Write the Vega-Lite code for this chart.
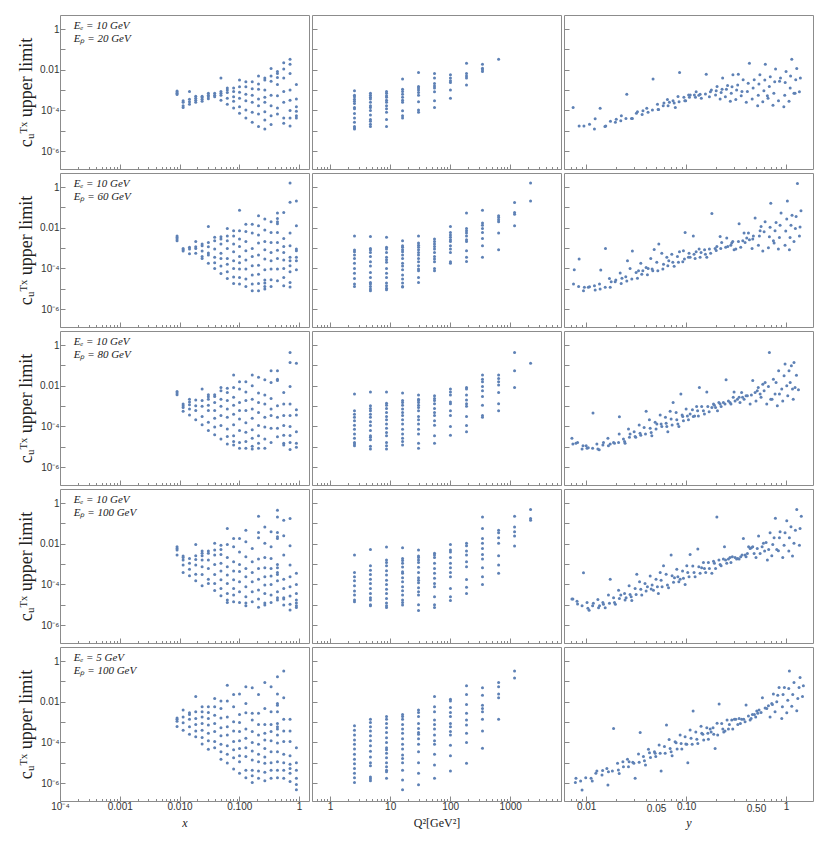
{
"$schema":"https://vega.github.io/schema/vega-lite/v6.json",
"padding":{"left":17,"top":14,"right":2,"bottom":5},
"background":"white",
"config":{"view":{"stroke":"#8c8c8c","strokeWidth":1},"axis":{"grid":false,"domain":false,"tickColor":"#888","labelFont":"Liberation Sans","labelFontSize":10,"labelColor":"#333","titleFont":"Liberation Serif","titleColor":"#222","titleFontWeight":"normal"},"circle":{"size":9,"color":"#5E81B5","opacity":1},"text":{"font":"Liberation Serif","fontSize":11,"fontStyle":"italic","align":"left","baseline":"middle","color":"#222"}},
"datasets":{
"lab":[{"r":1,"v":0.00017,"c":1.5,"t":"Eₑ = 10 GeV"},{"r":1,"v":0.00017,"c":0.34,"t":"Eₚ = 20 GeV"},{"r":2,"v":0.00017,"c":1.5,"t":"Eₑ = 10 GeV"},{"r":2,"v":0.00017,"c":0.34,"t":"Eₚ = 60 GeV"},{"r":3,"v":0.00017,"c":1.5,"t":"Eₑ = 10 GeV"},{"r":3,"v":0.00017,"c":0.34,"t":"Eₚ = 80 GeV"},{"r":4,"v":0.00017,"c":1.5,"t":"Eₑ = 10 GeV"},{"r":4,"v":0.00017,"c":0.34,"t":"Eₚ = 100 GeV"},{"r":5,"v":0.00017,"c":1.5,"t":"Eₑ = 5 GeV"},{"r":5,"v":0.00017,"c":0.34,"t":"Eₚ = 100 GeV"}],
"x1":[{"v":0.0091,"c":9e-4},{"v":0.0091,"c":8e-4},{"v":0.0091,"c":7e-4},{"v":0.0091,"c":6e-4},{"v":0.0115,"c":3e-4},{"v":0.0115,"c":2.5e-4},{"v":0.0115,"c":1.7e-4},{"v":0.0115,"c":1.4e-4},{"v":0.0147,"c":8.5e-4},{"v":0.0147,"c":3.5e-4},{"v":0.0147,"c":2.7e-4},{"v":0.0147,"c":2e-4},{"v":0.0187,"c":5e-4},{"v":0.0187,"c":4e-4},{"v":0.0187,"c":3.2e-4},{"v":0.0187,"c":2.5e-4},{"v":0.0239,"c":5e-4},{"v":0.0239,"c":4.3e-4},{"v":0.0239,"c":3.5e-4},{"v":0.0239,"c":2.8e-4},{"v":0.0304,"c":6.9e-4},{"v":0.0304,"c":5.6e-4},{"v":0.0304,"c":4.7e-4},{"v":0.0304,"c":3.7e-4},{"v":0.0388,"c":6.9e-4},{"v":0.0388,"c":5.6e-4},{"v":0.0388,"c":4.7e-4},{"v":0.0494,"c":3.9e-3},{"v":0.0494,"c":8.6e-4},{"v":0.0494,"c":6.9e-4},{"v":0.0494,"c":5.5e-4},{"v":0.0494,"c":3.2e-4},{"v":0.0631,"c":1.26e-3},{"v":0.0631,"c":1e-3},{"v":0.0631,"c":7.7e-4},{"v":0.0631,"c":4e-4},{"v":0.0631,"c":2e-4},{"v":0.0805,"c":1.26e-3},{"v":0.0805,"c":8.6e-4},{"v":0.0805,"c":4.7e-4},{"v":0.0805,"c":2.8e-4},{"v":0.0805,"c":1.3e-4},{"v":0.101,"c":3.1e-3},{"v":0.101,"c":1.45e-3},{"v":0.101,"c":7.9e-4},{"v":0.101,"c":4e-4},{"v":0.101,"c":1.5e-4},{"v":0.101,"c":7.3e-5},{"v":0.129,"c":2.6e-3},{"v":0.129,"c":1.45e-3},{"v":0.129,"c":6.3e-4},{"v":0.129,"c":3e-4},{"v":0.129,"c":1.05e-4},{"v":0.129,"c":4.2e-5},{"v":0.165,"c":2.6e-3},{"v":0.165,"c":1.17e-3},{"v":0.165,"c":5.6e-4},{"v":0.165,"c":2.5e-4},{"v":0.165,"c":8e-5},{"v":0.165,"c":2.6e-5},{"v":0.21,"c":5e-3},{"v":0.21,"c":2e-3},{"v":0.21,"c":1.1e-3},{"v":0.21,"c":3.6e-4},{"v":0.21,"c":1.7e-4},{"v":0.21,"c":6.6e-5},{"v":0.21,"c":1.6e-5},{"v":0.268,"c":3.9e-3},{"v":0.268,"c":3.1e-3},{"v":0.268,"c":1e-3},{"v":0.268,"c":4.4e-4},{"v":0.268,"c":2.5e-4},{"v":0.268,"c":8.5e-5},{"v":0.268,"c":3.4e-5},{"v":0.268,"c":1.2e-5},{"v":0.341,"c":1.17e-2},{"v":0.341,"c":5e-3},{"v":0.341,"c":2.7e-3},{"v":0.341,"c":5.6e-4},{"v":0.341,"c":1.7e-4},{"v":0.341,"c":5.5e-5},{"v":0.341,"c":2e-5},{"v":0.436,"c":8.3e-3},{"v":0.436,"c":6.6e-3},{"v":0.436,"c":4.2e-3},{"v":0.436,"c":1.9e-3},{"v":0.436,"c":5.3e-4},{"v":0.436,"c":1.3e-4},{"v":0.436,"c":6.6e-5},{"v":0.555,"c":2.2e-2},{"v":0.555,"c":1.1e-2},{"v":0.555,"c":3.9e-3},{"v":0.555,"c":8.6e-4},{"v":0.555,"c":2.5e-4},{"v":0.555,"c":4.2e-5},{"v":0.555,"c":2.3e-5},{"v":0.708,"c":3.3e-2},{"v":0.708,"c":1.9e-2},{"v":0.708,"c":6.6e-3},{"v":0.708,"c":1e-3},{"v":0.708,"c":3.2e-4},{"v":0.708,"c":1e-4},{"v":0.708,"c":4.2e-5},{"v":0.708,"c":1.7e-5},{"v":0.904,"c":1.9e-3},{"v":0.904,"c":3.6e-4},{"v":0.904,"c":1.5e-4},{"v":0.904,"c":9e-5},{"v":0.904,"c":5.5e-5},{"v":0.904,"c":4.2e-5}],
"x2":[{"v":0.0091,"c":4e-3},{"v":0.0091,"c":3.3e-3},{"v":0.0091,"c":2.8e-3},{"v":0.0091,"c":2.3e-3},{"v":0.0115,"c":9.6e-4},{"v":0.0115,"c":8.3e-4},{"v":0.0115,"c":7.1e-4},{"v":0.0147,"c":1.1e-3},{"v":0.0147,"c":9e-4},{"v":0.0147,"c":5.3e-4},{"v":0.0187,"c":2.1e-3},{"v":0.0187,"c":1.15e-3},{"v":0.0187,"c":9.6e-4},{"v":0.0187,"c":5.5e-4},{"v":0.0239,"c":1.6e-3},{"v":0.0239,"c":1.3e-3},{"v":0.0239,"c":7.3e-4},{"v":0.0239,"c":3.9e-4},{"v":0.0239,"c":3.1e-4},{"v":0.0304,"c":1.17e-2},{"v":0.0304,"c":1.9e-3},{"v":0.0304,"c":1.15e-3},{"v":0.0304,"c":5.7e-4},{"v":0.0304,"c":4.6e-4},{"v":0.0304,"c":1.8e-4},{"v":0.0388,"c":3.4e-3},{"v":0.0388,"c":2.3e-3},{"v":0.0388,"c":9e-4},{"v":0.0388,"c":3.5e-4},{"v":0.0388,"c":1.9e-4},{"v":0.0388,"c":1e-4},{"v":0.0494,"c":3.6e-3},{"v":0.0494,"c":2.8e-3},{"v":0.0494,"c":1.6e-3},{"v":0.0494,"c":5.5e-4},{"v":0.0494,"c":3.1e-4},{"v":0.0494,"c":1.3e-4},{"v":0.0494,"c":5.6e-5},{"v":0.0631,"c":9.3e-3},{"v":0.0631,"c":4e-3},{"v":0.0631,"c":2.3e-3},{"v":0.0631,"c":9.6e-4},{"v":0.0631,"c":3.1e-4},{"v":0.0631,"c":1.6e-4},{"v":0.0631,"c":6.9e-5},{"v":0.0631,"c":3.2e-5},{"v":0.0805,"c":7.1e-3},{"v":0.0805,"c":4e-3},{"v":0.0805,"c":1.6e-3},{"v":0.0805,"c":6.6e-4},{"v":0.0805,"c":2.4e-4},{"v":0.0805,"c":1e-4},{"v":0.0805,"c":3.8e-5},{"v":0.0805,"c":1.8e-5},{"v":0.101,"c":7.4e-2},{"v":0.101,"c":7.1e-3},{"v":0.101,"c":2.8e-3},{"v":0.101,"c":1.2e-3},{"v":0.101,"c":3.9e-4},{"v":0.101,"c":1.9e-4},{"v":0.101,"c":9.4e-5},{"v":0.101,"c":3.6e-5},{"v":0.101,"c":1.7e-5},{"v":0.129,"c":1.5e-2},{"v":0.129,"c":6.6e-3},{"v":0.129,"c":2.1e-3},{"v":0.129,"c":7.4e-4},{"v":0.129,"c":2.6e-4},{"v":0.129,"c":9.4e-5},{"v":0.129,"c":3e-5},{"v":0.129,"c":1.3e-5},{"v":0.165,"c":1.5e-2},{"v":0.165,"c":5.5e-3},{"v":0.165,"c":9.6e-4},{"v":0.165,"c":3.9e-4},{"v":0.165,"c":1.35e-4},{"v":0.165,"c":4.7e-5},{"v":0.165,"c":1.7e-5},{"v":0.165,"c":8e-6},{"v":0.21,"c":3.9e-2},{"v":0.21,"c":1.25e-2},{"v":0.21,"c":4.4e-3},{"v":0.21,"c":1.8e-3},{"v":0.21,"c":4.6e-4},{"v":0.21,"c":1.45e-4},{"v":0.21,"c":5.2e-5},{"v":0.21,"c":1.8e-5},{"v":0.21,"c":8e-6},{"v":0.268,"c":2.7e-2},{"v":0.268,"c":7.7e-3},{"v":0.268,"c":2.1e-3},{"v":0.268,"c":8.3e-4},{"v":0.268,"c":2.9e-4},{"v":0.268,"c":8.5e-5},{"v":0.268,"c":2.7e-5},{"v":0.268,"c":1.9e-5},{"v":0.268,"c":1.3e-5},{"v":0.268,"c":9.6e-6},{"v":0.341,"c":2e-2},{"v":0.341,"c":5.9e-3},{"v":0.341,"c":1.9e-3},{"v":0.341,"c":6.1e-4},{"v":0.341,"c":2.4e-4},{"v":0.341,"c":9.4e-5},{"v":0.341,"c":2.8e-5},{"v":0.341,"c":1.3e-5},{"v":0.436,"c":5.3e-2},{"v":0.436,"c":2.9e-2},{"v":0.436,"c":2e-2},{"v":0.436,"c":1.6e-2},{"v":0.436,"c":5.9e-3},{"v":0.436,"c":1.9e-3},{"v":0.436,"c":7.9e-4},{"v":0.436,"c":3.1e-4},{"v":0.436,"c":9.4e-5},{"v":0.436,"c":2.5e-5},{"v":0.555,"c":5.7e-2},{"v":0.555,"c":3e-3},{"v":0.555,"c":1.2e-3},{"v":0.555,"c":6.1e-4},{"v":0.555,"c":2.6e-4},{"v":0.555,"c":1e-4},{"v":0.555,"c":3.6e-5},{"v":0.555,"c":1.4e-5},{"v":0.708,"c":1.6},{"v":0.708,"c":0.18},{"v":0.708,"c":5.5e-3},{"v":0.708,"c":1.3e-3},{"v":0.708,"c":3.5e-4},{"v":0.708,"c":2.4e-4},{"v":0.708,"c":1.35e-4},{"v":0.708,"c":6.9e-5},{"v":0.708,"c":2e-5},{"v":0.708,"c":1.2e-5},{"v":0.904,"c":0.21},{"v":0.904,"c":1.25e-2},{"v":0.904,"c":9e-4},{"v":0.904,"c":7.4e-4},{"v":0.904,"c":3.5e-4},{"v":0.904,"c":2.4e-4},{"v":0.904,"c":8.6e-5}],
"x3":[{"v":0.0091,"c":5.2e-3},{"v":0.0091,"c":4.4e-3},{"v":0.0091,"c":3.6e-3},{"v":0.0115,"c":1.26e-3},{"v":0.0115,"c":1.05e-3},{"v":0.0115,"c":8.6e-4},{"v":0.0115,"c":5.5e-4},{"v":0.0147,"c":2.2e-3},{"v":0.0147,"c":1.6e-3},{"v":0.0147,"c":1.15e-3},{"v":0.0147,"c":7.1e-4},{"v":0.0147,"c":3.6e-4},{"v":0.0187,"c":2e-3},{"v":0.0187,"c":1.05e-3},{"v":0.0187,"c":6e-4},{"v":0.0187,"c":2.1e-4},{"v":0.0239,"c":6.9e-3},{"v":0.0239,"c":1.9e-3},{"v":0.0239,"c":9.8e-4},{"v":0.0239,"c":3.1e-4},{"v":0.0239,"c":1.2e-4},{"v":0.0304,"c":3.6e-3},{"v":0.0304,"c":2.9e-3},{"v":0.0304,"c":2.2e-3},{"v":0.0304,"c":1.1e-3},{"v":0.0304,"c":6e-4},{"v":0.0304,"c":1.6e-4},{"v":0.0304,"c":6.2e-5},{"v":0.0388,"c":3.6e-3},{"v":0.0388,"c":3e-3},{"v":0.0388,"c":1.5e-3},{"v":0.0388,"c":6e-4},{"v":0.0388,"c":2.5e-4},{"v":0.0388,"c":9.3e-5},{"v":0.0388,"c":3.9e-5},{"v":0.0494,"c":8.3e-3},{"v":0.0494,"c":5.7e-3},{"v":0.0494,"c":2.2e-3},{"v":0.0494,"c":9.8e-4},{"v":0.0494,"c":3.4e-4},{"v":0.0494,"c":1.1e-4},{"v":0.0494,"c":2.4e-5},{"v":0.0631,"c":7.5e-3},{"v":0.0631,"c":4.7e-3},{"v":0.0631,"c":1.9e-3},{"v":0.0631,"c":7.1e-4},{"v":0.0631,"c":2.8e-4},{"v":0.0631,"c":7.4e-5},{"v":0.0631,"c":3.2e-5},{"v":0.0631,"c":1.35e-5},{"v":0.0805,"c":3.4e-2},{"v":0.0805,"c":8.3e-3},{"v":0.0805,"c":2.7e-3},{"v":0.0805,"c":1.1e-3},{"v":0.0805,"c":4e-4},{"v":0.0805,"c":1.2e-4},{"v":0.0805,"c":3.5e-5},{"v":0.0805,"c":1.8e-5},{"v":0.0805,"c":1.2e-5},{"v":0.101,"c":1.6e-2},{"v":0.101,"c":6.9e-3},{"v":0.101,"c":1.5e-3},{"v":0.101,"c":6e-4},{"v":0.101,"c":2.3e-4},{"v":0.101,"c":6.2e-5},{"v":0.101,"c":1.6e-5},{"v":0.101,"c":8.5e-6},{"v":0.129,"c":1.6e-2},{"v":0.129,"c":5e-3},{"v":0.129,"c":1.9e-3},{"v":0.129,"c":6e-4},{"v":0.129,"c":1.5e-4},{"v":0.129,"c":5.2e-5},{"v":0.129,"c":1.8e-5},{"v":0.129,"c":8.5e-6},{"v":0.165,"c":3.4e-2},{"v":0.165,"c":1e-2},{"v":0.165,"c":2.2e-3},{"v":0.165,"c":7.1e-4},{"v":0.165,"c":2.5e-4},{"v":0.165,"c":6.9e-5},{"v":0.165,"c":2.6e-5},{"v":0.165,"c":1.05e-5},{"v":0.165,"c":7.8e-6},{"v":0.21,"c":2.6e-2},{"v":0.21,"c":4.4e-3},{"v":0.21,"c":1.5e-3},{"v":0.21,"c":4.9e-4},{"v":0.21,"c":1.1e-4},{"v":0.21,"c":3.5e-5},{"v":0.21,"c":1.5e-5},{"v":0.21,"c":8.5e-6},{"v":0.268,"c":2e-2},{"v":0.268,"c":3.5e-3},{"v":0.268,"c":1.26e-3},{"v":0.268,"c":2.8e-4},{"v":0.268,"c":9.3e-5},{"v":0.268,"c":2.4e-5},{"v":0.268,"c":8.5e-6},{"v":0.341,"c":5.5e-2},{"v":0.341,"c":1.45e-2},{"v":0.341,"c":2.4e-3},{"v":0.341,"c":7.1e-4},{"v":0.341,"c":3.4e-4},{"v":0.341,"c":8e-5},{"v":0.341,"c":1.6e-5},{"v":0.436,"c":5.5e-2},{"v":0.436,"c":2.1e-2},{"v":0.436,"c":1.8e-2},{"v":0.436,"c":1.05e-3},{"v":0.436,"c":2.8e-4},{"v":0.436,"c":8e-5},{"v":0.436,"c":3.1e-5},{"v":0.555,"c":4.7e-3},{"v":0.555,"c":1.26e-3},{"v":0.555,"c":3.4e-4},{"v":0.555,"c":1.1e-4},{"v":0.555,"c":3.7e-5},{"v":0.555,"c":1.5e-5},{"v":0.555,"c":1.2e-5},{"v":0.708,"c":0.44},{"v":0.708,"c":0.14},{"v":0.708,"c":9.3e-3},{"v":0.708,"c":1.26e-3},{"v":0.708,"c":3.4e-4},{"v":0.708,"c":1e-4},{"v":0.708,"c":3.6e-5},{"v":0.708,"c":1.6e-5},{"v":0.708,"c":7.2e-6},{"v":0.904,"c":0.13},{"v":0.904,"c":6.6e-4},{"v":0.904,"c":3.6e-4},{"v":0.904,"c":5.5e-5},{"v":0.904,"c":1.5e-5},{"v":0.904,"c":9.3e-6}],
"x4":[{"v":0.0091,"c":7.1e-3},{"v":0.0091,"c":5.9e-3},{"v":0.0091,"c":4.9e-3},{"v":0.0091,"c":2.8e-3},{"v":0.0115,"c":2.5e-3},{"v":0.0115,"c":2.1e-3},{"v":0.0115,"c":1.6e-3},{"v":0.0115,"c":9e-4},{"v":0.0115,"c":3.9e-4},{"v":0.0147,"c":1.9e-3},{"v":0.0147,"c":1.1e-3},{"v":0.0147,"c":5.5e-4},{"v":0.0147,"c":2.7e-4},{"v":0.0187,"c":9.3e-3},{"v":0.0187,"c":2.6e-3},{"v":0.0187,"c":1.7e-3},{"v":0.0187,"c":9e-4},{"v":0.0187,"c":3.2e-4},{"v":0.0187,"c":1.5e-4},{"v":0.0239,"c":4.4e-3},{"v":0.0239,"c":3.4e-3},{"v":0.0239,"c":2.6e-3},{"v":0.0239,"c":1.6e-3},{"v":0.0239,"c":7.4e-4},{"v":0.0239,"c":3.1e-4},{"v":0.0239,"c":8.6e-5},{"v":0.0304,"c":4.4e-3},{"v":0.0304,"c":3.4e-3},{"v":0.0304,"c":1.6e-3},{"v":0.0304,"c":6.1e-4},{"v":0.0304,"c":1.8e-4},{"v":0.0304,"c":1.1e-4},{"v":0.0388,"c":1.05e-2},{"v":0.0388,"c":4.9e-3},{"v":0.0388,"c":2.8e-3},{"v":0.0388,"c":9.6e-4},{"v":0.0388,"c":3.1e-4},{"v":0.0388,"c":1.1e-4},{"v":0.0388,"c":5e-5},{"v":0.0494,"c":8.6e-3},{"v":0.0494,"c":5.2e-3},{"v":0.0494,"c":3e-3},{"v":0.0494,"c":1.1e-3},{"v":0.0494,"c":4.6e-4},{"v":0.0494,"c":1.7e-4},{"v":0.0494,"c":6.3e-5},{"v":0.0494,"c":2.8e-5},{"v":0.0631,"c":5.7e-2},{"v":0.0631,"c":9.3e-3},{"v":0.0631,"c":2.1e-3},{"v":0.0631,"c":7.4e-4},{"v":0.0631,"c":2.9e-4},{"v":0.0631,"c":1.1e-4},{"v":0.0631,"c":3.6e-5},{"v":0.0631,"c":1.7e-5},{"v":0.0631,"c":1.3e-5},{"v":0.0805,"c":1.8e-2},{"v":0.0805,"c":7.1e-3},{"v":0.0805,"c":1.3e-3},{"v":0.0805,"c":4.6e-4},{"v":0.0805,"c":1.7e-4},{"v":0.0805,"c":6.3e-5},{"v":0.0805,"c":3e-5},{"v":0.0805,"c":1.4e-5},{"v":0.101,"c":1.8e-2},{"v":0.101,"c":4e-3},{"v":0.101,"c":9.6e-4},{"v":0.101,"c":4.3e-4},{"v":0.101,"c":1.35e-4},{"v":0.101,"c":4.3e-5},{"v":0.101,"c":1.3e-5},{"v":0.129,"c":4.7e-2},{"v":0.129,"c":1.25e-2},{"v":0.129,"c":2.3e-3},{"v":0.129,"c":6.1e-4},{"v":0.129,"c":2.4e-4},{"v":0.129,"c":7.7e-5},{"v":0.129,"c":2.5e-5},{"v":0.129,"c":1.2e-5},{"v":0.129,"c":9e-6},{"v":0.165,"c":5.9e-3},{"v":0.165,"c":1.3e-3},{"v":0.165,"c":3.9e-4},{"v":0.165,"c":1.35e-4},{"v":0.165,"c":4.3e-5},{"v":0.165,"c":1.4e-5},{"v":0.21,"c":0.23},{"v":0.21,"c":3.6e-2},{"v":0.21,"c":2e-2},{"v":0.21,"c":1.8e-3},{"v":0.21,"c":6.1e-4},{"v":0.21,"c":1.8e-4},{"v":0.21,"c":5.3e-5},{"v":0.21,"c":1.9e-5},{"v":0.21,"c":7.5e-6},{"v":0.268,"c":6.8e-2},{"v":0.268,"c":1.05e-2},{"v":0.268,"c":2.1e-3},{"v":0.268,"c":6.6e-4},{"v":0.268,"c":2.4e-4},{"v":0.268,"c":9.4e-5},{"v":0.268,"c":3.6e-5},{"v":0.268,"c":1.2e-5},{"v":0.268,"c":9.6e-6},{"v":0.341,"c":3.9e-2},{"v":0.341,"c":7.1e-3},{"v":0.341,"c":1.9e-3},{"v":0.341,"c":6.1e-4},{"v":0.341,"c":2.6e-4},{"v":0.341,"c":1e-4},{"v":0.341,"c":3e-5},{"v":0.341,"c":1.3e-5},{"v":0.436,"c":0.45},{"v":0.436,"c":0.21},{"v":0.436,"c":3.6e-2},{"v":0.436,"c":2.2e-2},{"v":0.436,"c":1.8e-2},{"v":0.436,"c":9.6e-4},{"v":0.436,"c":6.6e-4},{"v":0.436,"c":3.9e-4},{"v":0.436,"c":3.1e-4},{"v":0.436,"c":1.5e-4},{"v":0.436,"c":4.3e-5},{"v":0.436,"c":2.2e-5},{"v":0.436,"c":1.7e-5},{"v":0.555,"c":0.146},{"v":0.555,"c":2.5e-2},{"v":0.555,"c":2.8e-3},{"v":0.555,"c":1.8e-4},{"v":0.555,"c":6.3e-5},{"v":0.555,"c":2.2e-5},{"v":0.555,"c":1.9e-5},{"v":0.555,"c":9.6e-6},{"v":0.708,"c":0.176},{"v":0.708,"c":8e-3},{"v":0.708,"c":9e-4},{"v":0.708,"c":2.4e-4},{"v":0.708,"c":7.7e-5},{"v":0.708,"c":2.7e-5},{"v":0.708,"c":1.05e-5},{"v":0.708,"c":5.5e-6},{"v":0.904,"c":3.5e-4},{"v":0.904,"c":1e-4},{"v":0.904,"c":3.6e-5},{"v":0.904,"c":1.7e-5},{"v":0.904,"c":1.2e-5},{"v":0.904,"c":9e-6},{"v":0.904,"c":7.2e-6}],
"x5":[{"v":0.0091,"c":1.6e-3},{"v":0.0091,"c":1.4e-3},{"v":0.0091,"c":1.1e-3},{"v":0.0091,"c":6e-4},{"v":0.0115,"c":3.9e-3},{"v":0.0115,"c":1.8e-3},{"v":0.0115,"c":9.3e-4},{"v":0.0115,"c":4e-4},{"v":0.0147,"c":2.9e-3},{"v":0.0147,"c":2.4e-3},{"v":0.0147,"c":1.4e-3},{"v":0.0147,"c":5.9e-4},{"v":0.0147,"c":2.5e-4},{"v":0.0187,"c":1.8e-2},{"v":0.0187,"c":3.2e-3},{"v":0.0187,"c":1.5e-3},{"v":0.0187,"c":7.7e-4},{"v":0.0187,"c":3.6e-4},{"v":0.0187,"c":1.9e-4},{"v":0.0239,"c":5.7e-3},{"v":0.0239,"c":3.2e-3},{"v":0.0239,"c":1.8e-3},{"v":0.0239,"c":8.6e-4},{"v":0.0239,"c":4e-4},{"v":0.0239,"c":1.75e-4},{"v":0.0239,"c":8.4e-5},{"v":0.0304,"c":5.7e-3},{"v":0.0304,"c":3e-3},{"v":0.0304,"c":1.5e-3},{"v":0.0304,"c":7.1e-4},{"v":0.0304,"c":2.8e-4},{"v":0.0304,"c":1.2e-4},{"v":0.0304,"c":4.6e-5},{"v":0.0388,"c":1.45e-2},{"v":0.0388,"c":5.7e-3},{"v":0.0388,"c":2.2e-3},{"v":0.0388,"c":8.6e-4},{"v":0.0388,"c":3.4e-4},{"v":0.0388,"c":1.1e-4},{"v":0.0388,"c":5.5e-5},{"v":0.0494,"c":1.1e-2},{"v":0.0494,"c":4.7e-3},{"v":0.0494,"c":1.6e-3},{"v":0.0494,"c":5.3e-4},{"v":0.0494,"c":2.1e-4},{"v":0.0494,"c":8e-5},{"v":0.0494,"c":3.5e-5},{"v":0.0494,"c":1.5e-5},{"v":0.0631,"c":6.6e-2},{"v":0.0631,"c":1.1e-2},{"v":0.0631,"c":1.8e-3},{"v":0.0631,"c":5.9e-4},{"v":0.0631,"c":2.3e-4},{"v":0.0631,"c":6.8e-5},{"v":0.0631,"c":2.6e-5},{"v":0.0631,"c":9.6e-6},{"v":0.0805,"c":2.3e-2},{"v":0.0805,"c":5.7e-3},{"v":0.0805,"c":1.05e-3},{"v":0.0805,"c":3.6e-4},{"v":0.0805,"c":1.1e-4},{"v":0.0805,"c":4.3e-5},{"v":0.0805,"c":1.75e-5},{"v":0.0805,"c":4.9e-6},{"v":0.101,"c":2.4e-2},{"v":0.101,"c":2.4e-3},{"v":0.101,"c":9.6e-4},{"v":0.101,"c":3.4e-4},{"v":0.101,"c":1.2e-4},{"v":0.101,"c":5e-5},{"v":0.101,"c":2.2e-5},{"v":0.101,"c":1.1e-5},{"v":0.101,"c":3e-6},{"v":0.129,"c":5.5e-2},{"v":0.129,"c":8.3e-3},{"v":0.129,"c":2.9e-3},{"v":0.129,"c":4.6e-4},{"v":0.129,"c":1.6e-4},{"v":0.129,"c":5.5e-5},{"v":0.129,"c":2e-5},{"v":0.129,"c":4.3e-6},{"v":0.129,"c":1.8e-6},{"v":0.165,"c":4.9e-2},{"v":0.165,"c":2.7e-3},{"v":0.165,"c":1.26e-3},{"v":0.165,"c":3.4e-4},{"v":0.165,"c":1e-4},{"v":0.165,"c":3.8e-5},{"v":0.165,"c":1.35e-5},{"v":0.165,"c":4.3e-6},{"v":0.165,"c":2.3e-6},{"v":0.165,"c":1.05e-6},{"v":0.21,"c":2.3e-2},{"v":0.21,"c":2.7e-3},{"v":0.21,"c":7.7e-4},{"v":0.21,"c":2.3e-4},{"v":0.21,"c":8e-5},{"v":0.21,"c":2.6e-5},{"v":0.21,"c":1.1e-5},{"v":0.21,"c":3.9e-6},{"v":0.21,"c":1.7e-6},{"v":0.268,"c":8.9e-2},{"v":0.268,"c":4.7e-3},{"v":0.268,"c":7.7e-4},{"v":0.268,"c":2.8e-4},{"v":0.268,"c":1.3e-4},{"v":0.268,"c":5e-5},{"v":0.268,"c":1.9e-5},{"v":0.268,"c":9.3e-6},{"v":0.268,"c":3.4e-6},{"v":0.268,"c":1.3e-6},{"v":0.341,"c":5.5e-2},{"v":0.341,"c":3.2e-3},{"v":0.341,"c":7.7e-4},{"v":0.341,"c":3.4e-4},{"v":0.341,"c":1.2e-4},{"v":0.341,"c":3.5e-5},{"v":0.341,"c":1e-5},{"v":0.341,"c":4.3e-6},{"v":0.341,"c":1.7e-6},{"v":0.436,"c":0.17},{"v":0.436,"c":2.4e-2},{"v":0.436,"c":8.3e-3},{"v":0.436,"c":6.8e-3},{"v":0.436,"c":3.2e-3},{"v":0.436,"c":8.6e-4},{"v":0.436,"c":5.9e-4},{"v":0.436,"c":4.6e-4},{"v":0.436,"c":2.3e-4},{"v":0.436,"c":9.4e-5},{"v":0.436,"c":3.5e-5},{"v":0.436,"c":1.1e-5},{"v":0.436,"c":4.3e-6},{"v":0.436,"c":1.8e-6},{"v":0.555,"c":0.33},{"v":0.555,"c":1.6e-2},{"v":0.555,"c":1.4e-3},{"v":0.555,"c":3.6e-4},{"v":0.555,"c":1.1e-4},{"v":0.555,"c":2.6e-5},{"v":0.555,"c":1e-5},{"v":0.555,"c":4.3e-6},{"v":0.555,"c":1.7e-6},{"v":0.708,"c":1.4e-3},{"v":0.708,"c":3.6e-4},{"v":0.708,"c":1.1e-4},{"v":0.708,"c":2.2e-5},{"v":0.708,"c":8.5e-6},{"v":0.708,"c":5.2e-6},{"v":0.708,"c":3e-6},{"v":0.708,"c":1.2e-6},{"v":0.904,"c":5.5e-5},{"v":0.904,"c":1e-5},{"v":0.904,"c":4.3e-6},{"v":0.904,"c":1.7e-6},{"v":0.904,"c":8.5e-7},{"v":0.904,"c":4.6e-7}],
"q1":[{"v":2.55,"c":9.3e-4},{"v":2.55,"c":5.6e-4},{"v":2.55,"c":4.7e-4},{"v":2.55,"c":3.5e-4},{"v":2.55,"c":2.8e-4},{"v":2.55,"c":2.2e-4},{"v":2.55,"c":1.4e-4},{"v":2.55,"c":1.2e-4},{"v":2.55,"c":7e-5},{"v":2.55,"c":4.2e-5},{"v":2.55,"c":2.6e-5},{"v":2.55,"c":1.6e-5},{"v":2.55,"c":1.35e-5},{"v":2.55,"c":1.2e-5},{"v":4.7,"c":6.9e-4},{"v":4.7,"c":5.6e-4},{"v":4.7,"c":4.4e-4},{"v":4.7,"c":3.6e-4},{"v":4.7,"c":2.5e-4},{"v":4.7,"c":1.7e-4},{"v":4.7,"c":1.4e-4},{"v":4.7,"c":1e-4},{"v":4.7,"c":6e-5},{"v":4.7,"c":3.6e-5},{"v":4.7,"c":2.9e-5},{"v":4.7,"c":2.1e-5},{"v":4.7,"c":1.6e-5},{"v":8.7,"c":8.6e-4},{"v":8.7,"c":6.9e-4},{"v":8.7,"c":5.3e-4},{"v":8.7,"c":4.4e-4},{"v":8.7,"c":3.2e-4},{"v":8.7,"c":2.5e-4},{"v":8.7,"c":1.7e-4},{"v":8.7,"c":1.2e-4},{"v":8.7,"c":8e-5},{"v":8.7,"c":3.6e-5},{"v":8.7,"c":1.6e-5},{"v":16.1,"c":3.5e-3},{"v":16.1,"c":1.1e-3},{"v":16.1,"c":8.6e-4},{"v":16.1,"c":6.3e-4},{"v":16.1,"c":4.4e-4},{"v":16.1,"c":3.2e-4},{"v":16.1,"c":2.5e-4},{"v":16.1,"c":9.6e-5},{"v":16.1,"c":5.5e-5},{"v":16.1,"c":4.2e-5},{"v":29.7,"c":7.4e-3},{"v":29.7,"c":1.5e-3},{"v":29.7,"c":1.26e-3},{"v":29.7,"c":1e-3},{"v":29.7,"c":7.7e-4},{"v":29.7,"c":5.6e-4},{"v":29.7,"c":2.7e-4},{"v":29.7,"c":1.05e-4},{"v":29.7,"c":8e-5},{"v":54.8,"c":6.6e-3},{"v":54.8,"c":3.9e-3},{"v":54.8,"c":2.1e-3},{"v":54.8,"c":1.6e-3},{"v":54.8,"c":1.26e-3},{"v":54.8,"c":8.4e-4},{"v":54.8,"c":3e-4},{"v":54.8,"c":1.4e-4},{"v":101,"c":5.7e-3},{"v":101,"c":3.9e-3},{"v":101,"c":2.9e-3},{"v":101,"c":2.4e-3},{"v":101,"c":1e-3},{"v":101,"c":4e-4},{"v":187,"c":2.1e-2},{"v":187,"c":6.6e-3},{"v":187,"c":5e-3},{"v":187,"c":3.9e-3},{"v":187,"c":1.8e-3},{"v":345,"c":1.9e-2},{"v":345,"c":1.2e-2},{"v":345,"c":1e-2},{"v":345,"c":8.3e-3},{"v":640,"c":3.3e-2}],
"q2":[{"v":2.55,"c":4e-3},{"v":2.55,"c":8e-4},{"v":2.55,"c":6.6e-4},{"v":2.55,"c":4.6e-4},{"v":2.55,"c":3.1e-4},{"v":2.55,"c":1.8e-4},{"v":2.55,"c":1e-4},{"v":2.55,"c":5.8e-5},{"v":2.55,"c":3.2e-5},{"v":2.55,"c":1.7e-5},{"v":2.55,"c":1.3e-5},{"v":4.7,"c":3.7e-3},{"v":4.7,"c":9.6e-4},{"v":4.7,"c":8e-4},{"v":4.7,"c":6.1e-4},{"v":4.7,"c":3.9e-4},{"v":4.7,"c":2.1e-4},{"v":4.7,"c":1.3e-4},{"v":4.7,"c":6.3e-5},{"v":4.7,"c":3.6e-5},{"v":4.7,"c":2e-5},{"v":4.7,"c":1.7e-5},{"v":4.7,"c":1.3e-5},{"v":4.7,"c":9.6e-6},{"v":4.7,"c":8e-6},{"v":8.7,"c":3.4e-3},{"v":8.7,"c":1.1e-3},{"v":8.7,"c":9e-4},{"v":8.7,"c":6.1e-4},{"v":8.7,"c":3.5e-4},{"v":8.7,"c":2.7e-4},{"v":8.7,"c":2e-4},{"v":8.7,"c":1e-4},{"v":8.7,"c":5.8e-5},{"v":8.7,"c":3.6e-5},{"v":8.7,"c":1.9e-5},{"v":8.7,"c":1.4e-5},{"v":8.7,"c":1.05e-5},{"v":8.7,"c":9e-6},{"v":16.1,"c":2.3e-3},{"v":16.1,"c":1.3e-3},{"v":16.1,"c":1.1e-3},{"v":16.1,"c":8.3e-4},{"v":16.1,"c":6.6e-4},{"v":16.1,"c":4.6e-4},{"v":16.1,"c":3.1e-4},{"v":16.1,"c":1.8e-4},{"v":16.1,"c":1.3e-4},{"v":16.1,"c":8.6e-5},{"v":16.1,"c":4.7e-5},{"v":16.1,"c":3e-5},{"v":16.1,"c":1.9e-5},{"v":16.1,"c":1.3e-5},{"v":16.1,"c":1.2e-5},{"v":29.7,"c":4e-3},{"v":29.7,"c":1.8e-3},{"v":29.7,"c":1.4e-3},{"v":29.7,"c":1.1e-3},{"v":29.7,"c":8.3e-4},{"v":29.7,"c":6.1e-4},{"v":29.7,"c":4.6e-4},{"v":29.7,"c":3.1e-4},{"v":29.7,"c":2.1e-4},{"v":29.7,"c":1.35e-4},{"v":29.7,"c":9.4e-5},{"v":29.7,"c":7.7e-5},{"v":29.7,"c":3.6e-5},{"v":29.7,"c":2e-5},{"v":54.8,"c":2.8e-3},{"v":54.8,"c":2.1e-3},{"v":54.8,"c":1.6e-3},{"v":54.8,"c":1.2e-3},{"v":54.8,"c":9e-4},{"v":54.8,"c":6.1e-4},{"v":54.8,"c":3.9e-4},{"v":54.8,"c":2.9e-4},{"v":54.8,"c":2.1e-4},{"v":54.8,"c":1e-4},{"v":54.8,"c":7.7e-5},{"v":101,"c":1.17e-2},{"v":101,"c":5.9e-3},{"v":101,"c":4.4e-3},{"v":101,"c":3.4e-3},{"v":101,"c":2.6e-3},{"v":101,"c":2.1e-3},{"v":101,"c":1.3e-3},{"v":101,"c":9e-4},{"v":101,"c":6.1e-4},{"v":101,"c":2.1e-4},{"v":101,"c":1.8e-4},{"v":187,"c":5.3e-2},{"v":187,"c":9.3e-3},{"v":187,"c":7.1e-3},{"v":187,"c":5.5e-3},{"v":187,"c":4e-3},{"v":187,"c":2.6e-3},{"v":187,"c":2.1e-3},{"v":187,"c":7.4e-4},{"v":187,"c":3.5e-4},{"v":187,"c":2.2e-4},{"v":345,"c":7.4e-2},{"v":345,"c":1.7e-2},{"v":345,"c":1.35e-2},{"v":345,"c":9.3e-3},{"v":345,"c":5.9e-3},{"v":345,"c":3e-3},{"v":345,"c":1.3e-3},{"v":345,"c":3.5e-4},{"v":640,"c":3.9e-2},{"v":640,"c":3.2e-2},{"v":640,"c":2.5e-2},{"v":640,"c":2e-2},{"v":640,"c":5.5e-3},{"v":640,"c":8.3e-4},{"v":1180,"c":0.176},{"v":1180,"c":5.7e-2},{"v":1180,"c":4.7e-2},{"v":1180,"c":1.25e-2},{"v":2180,"c":1.6},{"v":2180,"c":0.21}],
"q3":[{"v":2.55,"c":3.9e-3},{"v":2.55,"c":5.9e-4},{"v":2.55,"c":4e-4},{"v":2.55,"c":2.8e-4},{"v":2.55,"c":1.9e-4},{"v":2.55,"c":1.15e-4},{"v":2.55,"c":7.3e-5},{"v":2.55,"c":4.2e-5},{"v":2.55,"c":2.6e-5},{"v":2.55,"c":1.6e-5},{"v":2.55,"c":1.35e-5},{"v":2.55,"c":1.1e-5},{"v":4.7,"c":5e-3},{"v":4.7,"c":1.05e-3},{"v":4.7,"c":7.7e-4},{"v":4.7,"c":5.9e-4},{"v":4.7,"c":4e-4},{"v":4.7,"c":2.8e-4},{"v":4.7,"c":1.7e-4},{"v":4.7,"c":1.1e-4},{"v":4.7,"c":6.2e-5},{"v":4.7,"c":3.5e-5},{"v":4.7,"c":2.9e-5},{"v":4.7,"c":2.2e-5},{"v":4.7,"c":1.05e-5},{"v":4.7,"c":7.8e-6},{"v":8.7,"c":5e-3},{"v":8.7,"c":1.4e-3},{"v":8.7,"c":1.1e-3},{"v":8.7,"c":7.7e-4},{"v":8.7,"c":4.9e-4},{"v":8.7,"c":3.1e-4},{"v":8.7,"c":2.1e-4},{"v":8.7,"c":1.3e-4},{"v":8.7,"c":8e-5},{"v":8.7,"c":5e-5},{"v":8.7,"c":3.5e-5},{"v":8.7,"c":1.6e-5},{"v":8.7,"c":1.1e-5},{"v":8.7,"c":7.8e-6},{"v":16.1,"c":4.4e-3},{"v":16.1,"c":1.9e-3},{"v":16.1,"c":1.5e-3},{"v":16.1,"c":1.1e-3},{"v":16.1,"c":7.1e-4},{"v":16.1,"c":4.9e-4},{"v":16.1,"c":3.4e-4},{"v":16.1,"c":2.1e-4},{"v":16.1,"c":1.3e-4},{"v":16.1,"c":7.3e-5},{"v":16.1,"c":4.2e-5},{"v":16.1,"c":2.6e-5},{"v":16.1,"c":1.8e-5},{"v":16.1,"c":1.2e-5},{"v":29.7,"c":3.5e-3},{"v":29.7,"c":2.2e-3},{"v":29.7,"c":1.9e-3},{"v":29.7,"c":1.5e-3},{"v":29.7,"c":1.1e-3},{"v":29.7,"c":8.6e-4},{"v":29.7,"c":5.9e-4},{"v":29.7,"c":3.1e-4},{"v":29.7,"c":2.1e-4},{"v":29.7,"c":1.3e-4},{"v":29.7,"c":7.3e-5},{"v":29.7,"c":4.2e-5},{"v":29.7,"c":1.5e-5},{"v":29.7,"c":8.5e-6},{"v":54.8,"c":3.2e-3},{"v":54.8,"c":2.4e-3},{"v":54.8,"c":1.9e-3},{"v":54.8,"c":1.3e-3},{"v":54.8,"c":7.7e-4},{"v":54.8,"c":4.9e-4},{"v":54.8,"c":3.4e-4},{"v":54.8,"c":1.9e-4},{"v":54.8,"c":1.15e-4},{"v":54.8,"c":3.5e-5},{"v":54.8,"c":1.5e-5},{"v":101,"c":6.9e-3},{"v":101,"c":5e-3},{"v":101,"c":3.5e-3},{"v":101,"c":1.6e-3},{"v":101,"c":1.3e-3},{"v":101,"c":5.9e-4},{"v":101,"c":3.4e-4},{"v":101,"c":1e-4},{"v":101,"c":3.7e-5},{"v":187,"c":8.3e-3},{"v":187,"c":6.9e-3},{"v":187,"c":3.5e-3},{"v":187,"c":2e-3},{"v":187,"c":1.3e-3},{"v":187,"c":9.8e-4},{"v":187,"c":3.1e-4},{"v":187,"c":1.1e-4},{"v":187,"c":5.5e-5},{"v":345,"c":3.4e-2},{"v":345,"c":2.1e-2},{"v":345,"c":1.6e-2},{"v":345,"c":9.3e-3},{"v":345,"c":5.7e-3},{"v":345,"c":3e-3},{"v":345,"c":1.1e-3},{"v":345,"c":3.4e-4},{"v":345,"c":2.8e-4},{"v":640,"c":3.4e-2},{"v":640,"c":2.3e-2},{"v":640,"c":1.6e-2},{"v":640,"c":1.1e-2},{"v":640,"c":4.7e-3},{"v":640,"c":1.3e-3},{"v":640,"c":5.9e-4},{"v":1180,"c":0.44},{"v":1180,"c":5.5e-2},{"v":1180,"c":8.3e-3},{"v":2180,"c":0.13}],
"q4":[{"v":2.55,"c":2.8e-3},{"v":2.55,"c":3.9e-4},{"v":2.55,"c":2.4e-4},{"v":2.55,"c":1.5e-4},{"v":2.55,"c":8.6e-5},{"v":2.55,"c":4.7e-5},{"v":2.55,"c":3e-5},{"v":2.55,"c":1.7e-5},{"v":2.55,"c":1.4e-5},{"v":4.7,"c":5.2e-3},{"v":4.7,"c":8.3e-4},{"v":4.7,"c":5e-4},{"v":4.7,"c":3.1e-4},{"v":4.7,"c":1.8e-4},{"v":4.7,"c":1.1e-4},{"v":4.7,"c":6.3e-5},{"v":4.7,"c":3.6e-5},{"v":4.7,"c":2.2e-5},{"v":4.7,"c":1.7e-5},{"v":4.7,"c":1e-5},{"v":4.7,"c":8.8e-6},{"v":8.7,"c":6.9e-3},{"v":8.7,"c":1.6e-3},{"v":8.7,"c":1.2e-3},{"v":8.7,"c":8.3e-4},{"v":8.7,"c":4.7e-4},{"v":8.7,"c":2.9e-4},{"v":8.7,"c":1.6e-4},{"v":8.7,"c":1e-4},{"v":8.7,"c":5.8e-5},{"v":8.7,"c":3.6e-5},{"v":8.7,"c":2e-5},{"v":8.7,"c":1.2e-5},{"v":8.7,"c":9e-6},{"v":8.7,"c":7.2e-6},{"v":16.1,"c":6.3e-3},{"v":16.1,"c":1.9e-3},{"v":16.1,"c":1.5e-3},{"v":16.1,"c":1.1e-3},{"v":16.1,"c":7.1e-4},{"v":16.1,"c":4.2e-4},{"v":16.1,"c":3.5e-4},{"v":16.1,"c":2.1e-4},{"v":16.1,"c":1.35e-4},{"v":16.1,"c":7.7e-5},{"v":16.1,"c":4.9e-5},{"v":16.1,"c":3e-5},{"v":16.1,"c":1.7e-5},{"v":16.1,"c":1.3e-5},{"v":16.1,"c":9.6e-6},{"v":29.7,"c":4.9e-3},{"v":29.7,"c":2.5e-3},{"v":29.7,"c":2.1e-3},{"v":29.7,"c":1.6e-3},{"v":29.7,"c":1.2e-3},{"v":29.7,"c":6.9e-4},{"v":29.7,"c":3.9e-4},{"v":29.7,"c":2.1e-4},{"v":29.7,"c":1.6e-4},{"v":29.7,"c":1.2e-4},{"v":29.7,"c":6.8e-5},{"v":29.7,"c":4.3e-5},{"v":29.7,"c":3e-5},{"v":29.7,"c":1e-5},{"v":29.7,"c":5.2e-6},{"v":54.8,"c":3.4e-3},{"v":54.8,"c":2.8e-3},{"v":54.8,"c":2.1e-3},{"v":54.8,"c":1.1e-3},{"v":54.8,"c":6.1e-4},{"v":54.8,"c":3.5e-4},{"v":54.8,"c":2e-4},{"v":54.8,"c":1.1e-4},{"v":54.8,"c":7.7e-5},{"v":54.8,"c":2.5e-5},{"v":54.8,"c":1e-5},{"v":54.8,"c":7.2e-6},{"v":101,"c":9.3e-3},{"v":101,"c":4.9e-3},{"v":101,"c":4e-3},{"v":101,"c":2.1e-3},{"v":101,"c":1.1e-3},{"v":101,"c":6.6e-4},{"v":101,"c":3.9e-4},{"v":101,"c":2.4e-4},{"v":101,"c":6.3e-5},{"v":101,"c":2.5e-5},{"v":101,"c":1.6e-5},{"v":187,"c":1.05e-2},{"v":187,"c":8e-3},{"v":187,"c":4.4e-3},{"v":187,"c":2.8e-3},{"v":187,"c":1.3e-3},{"v":187,"c":7.4e-4},{"v":187,"c":1.75e-4},{"v":187,"c":7.3e-5},{"v":187,"c":3.6e-5},{"v":345,"c":0.21},{"v":345,"c":5.7e-2},{"v":345,"c":1.8e-2},{"v":345,"c":1.05e-2},{"v":345,"c":5.9e-3},{"v":345,"c":3e-3},{"v":345,"c":1.8e-3},{"v":345,"c":6.6e-4},{"v":345,"c":2.4e-4},{"v":345,"c":1e-4},{"v":640,"c":4.7e-2},{"v":640,"c":3.5e-2},{"v":640,"c":2e-2},{"v":640,"c":1.05e-2},{"v":640,"c":2.6e-3},{"v":640,"c":9e-4},{"v":640,"c":3.5e-4},{"v":1180,"c":0.23},{"v":1180,"c":6.8e-2},{"v":1180,"c":3.9e-2},{"v":1180,"c":2.4e-2},{"v":1180,"c":7.7e-3},{"v":2180,"c":0.49},{"v":2180,"c":0.176},{"v":2180,"c":0.146}],
"q5":[{"v":2.55,"c":6.6e-4},{"v":2.55,"c":4e-4},{"v":2.55,"c":2.3e-4},{"v":2.55,"c":1.3e-4},{"v":2.55,"c":8e-5},{"v":2.55,"c":4.8e-5},{"v":2.55,"c":2.6e-5},{"v":2.55,"c":1.5e-5},{"v":2.55,"c":9e-6},{"v":2.55,"c":5.2e-6},{"v":2.55,"c":3e-6},{"v":2.55,"c":1.8e-6},{"v":2.55,"c":1.05e-6},{"v":4.7,"c":1.4e-3},{"v":4.7,"c":9.6e-4},{"v":4.7,"c":5.9e-4},{"v":4.7,"c":3.6e-4},{"v":4.7,"c":2.1e-4},{"v":4.7,"c":1.2e-4},{"v":4.7,"c":6.8e-5},{"v":4.7,"c":3.7e-5},{"v":4.7,"c":1.9e-5},{"v":4.7,"c":1e-5},{"v":4.7,"c":7e-6},{"v":4.7,"c":2e-6},{"v":4.7,"c":1.6e-6},{"v":4.7,"c":1.3e-6},{"v":8.7,"c":1.9e-3},{"v":8.7,"c":1.4e-3},{"v":8.7,"c":8.6e-4},{"v":8.7,"c":5.3e-4},{"v":8.7,"c":3.1e-4},{"v":8.7,"c":1.7e-4},{"v":8.7,"c":1e-4},{"v":8.7,"c":5.5e-5},{"v":8.7,"c":4.3e-5},{"v":8.7,"c":2.9e-5},{"v":8.7,"c":1.75e-5},{"v":8.7,"c":1e-5},{"v":8.7,"c":6.3e-6},{"v":8.7,"c":4.3e-6},{"v":8.7,"c":3.6e-6},{"v":8.7,"c":1.7e-6},{"v":16.1,"c":2.4e-3},{"v":16.1,"c":1.9e-3},{"v":16.1,"c":1.4e-3},{"v":16.1,"c":7.7e-4},{"v":16.1,"c":4.6e-4},{"v":16.1,"c":2.8e-4},{"v":16.1,"c":1.5e-4},{"v":16.1,"c":8e-5},{"v":16.1,"c":4.8e-5},{"v":16.1,"c":2.4e-5},{"v":16.1,"c":1.6e-5},{"v":16.1,"c":1e-5},{"v":16.1,"c":4.3e-6},{"v":16.1,"c":1.4e-6},{"v":16.1,"c":4.6e-7},{"v":29.7,"c":3.9e-3},{"v":29.7,"c":3e-3},{"v":29.7,"c":1.9e-3},{"v":29.7,"c":8.6e-4},{"v":29.7,"c":4.9e-4},{"v":29.7,"c":3.1e-4},{"v":29.7,"c":2.5e-4},{"v":29.7,"c":1.5e-4},{"v":29.7,"c":8e-5},{"v":29.7,"c":3.5e-5},{"v":29.7,"c":1e-5},{"v":29.7,"c":3e-6},{"v":29.7,"c":8.1e-7},{"v":54.8,"c":1.8e-2},{"v":54.8,"c":5.7e-3},{"v":54.8,"c":3.2e-3},{"v":54.8,"c":1.26e-3},{"v":54.8,"c":7.7e-4},{"v":54.8,"c":4.6e-4},{"v":54.8,"c":2.3e-4},{"v":54.8,"c":1.2e-4},{"v":54.8,"c":8e-5},{"v":54.8,"c":2.6e-5},{"v":54.8,"c":7.7e-6},{"v":54.8,"c":1.7e-6},{"v":101,"c":1.35e-2},{"v":101,"c":1.1e-2},{"v":101,"c":5.2e-3},{"v":101,"c":3e-3},{"v":101,"c":1.9e-3},{"v":101,"c":8.6e-4},{"v":101,"c":5.9e-4},{"v":101,"c":3.4e-4},{"v":101,"c":2.3e-4},{"v":101,"c":7.3e-5},{"v":101,"c":2.2e-5},{"v":101,"c":3.9e-6},{"v":187,"c":6.1e-2},{"v":187,"c":2.3e-2},{"v":187,"c":7.4e-3},{"v":187,"c":2.7e-3},{"v":187,"c":1.26e-3},{"v":187,"c":7.1e-4},{"v":187,"c":2.8e-4},{"v":187,"c":1e-4},{"v":187,"c":9.3e-6},{"v":345,"c":4.9e-2},{"v":345,"c":2.1e-2},{"v":345,"c":6.8e-3},{"v":345,"c":4.7e-3},{"v":345,"c":3.2e-3},{"v":345,"c":1.4e-3},{"v":345,"c":3.6e-4},{"v":345,"c":5.2e-5},{"v":640,"c":8.9e-2},{"v":640,"c":5.5e-2},{"v":640,"c":2.4e-2},{"v":640,"c":1.6e-2},{"v":640,"c":1.4e-3},{"v":1180,"c":0.33},{"v":1180,"c":0.15}],
"y1":[{"v":0.0074,"c":1.4e-4},{"v":0.0085,"c":1.7e-5},{"v":0.0095,"c":1.7e-5},{"v":0.0108,"c":2.1e-5},{"v":0.0121,"c":1.2e-5},{"v":0.0123,"c":3.9e-5},{"v":0.0138,"c":1.26e-4},{"v":0.0154,"c":1.6e-5},{"v":0.0157,"c":1.7e-5},{"v":0.0175,"c":2.9e-5},{"v":0.0196,"c":2.6e-5},{"v":0.02,"c":3.7e-5},{"v":0.0222,"c":3.1e-5},{"v":0.0225,"c":5.5e-5},{"v":0.025,"c":4e-5},{"v":0.0255,"c":6.3e-4},{"v":0.0284,"c":4e-5},{"v":0.029,"c":4e-5},{"v":0.0318,"c":7.3e-5},{"v":0.0326,"c":8.6e-5},{"v":0.0363,"c":6.3e-5},{"v":0.037,"c":9.6e-5},{"v":0.0404,"c":1.26e-4},{"v":0.0416,"c":8e-5},{"v":0.046,"c":1.05e-4},{"v":0.0467,"c":3.5e-3},{"v":0.0517,"c":2e-4},{"v":0.0525,"c":1.1e-4},{"v":0.053,"c":1.1e-4},{"v":0.059,"c":1.7e-4},{"v":0.06,"c":2.3e-4},{"v":0.065,"c":3.4e-4},{"v":0.066,"c":1.7e-4},{"v":0.068,"c":2.5e-4},{"v":0.074,"c":3e-4},{"v":0.076,"c":2.3e-4},{"v":0.078,"c":1.4e-4},{"v":0.083,"c":4.9e-4},{"v":0.085,"c":2.7e-4},{"v":0.086,"c":7.4e-3},{"v":0.095,"c":4.4e-4},{"v":0.097,"c":3e-4},{"v":0.099,"c":3e-4},{"v":0.106,"c":5.8e-4},{"v":0.108,"c":4.4e-4},{"v":0.11,"c":5.8e-4},{"v":0.121,"c":5.8e-4},{"v":0.124,"c":4.4e-4},{"v":0.126,"c":8.4e-4},{"v":0.134,"c":5.6e-4},{"v":0.138,"c":6.3e-4},{"v":0.142,"c":4e-4},{"v":0.156,"c":6.5e-4},{"v":0.159,"c":6.1e-3},{"v":0.171,"c":4.7e-4},{"v":0.175,"c":8.4e-4},{"v":0.179,"c":1e-3},{"v":0.197,"c":5.8e-4},{"v":0.2,"c":9.3e-4},{"v":0.204,"c":1.5e-3},{"v":0.219,"c":3.6e-4},{"v":0.224,"c":7.7e-4},{"v":0.229,"c":1.1e-3},{"v":0.232,"c":3.9e-3},{"v":0.247,"c":4.7e-4},{"v":0.253,"c":1.1e-3},{"v":0.26,"c":1.7e-3},{"v":0.277,"c":2.8e-4},{"v":0.283,"c":6.9e-4},{"v":0.288,"c":1.45e-3},{"v":0.294,"c":5.7e-3},{"v":0.314,"c":3.4e-4},{"v":0.32,"c":1e-3},{"v":0.328,"c":1.8e-3},{"v":0.333,"c":6.1e-3},{"v":0.356,"c":5.3e-4},{"v":0.362,"c":8.6e-4},{"v":0.372,"c":3.2e-3},{"v":0.4,"c":2.5e-4},{"v":0.41,"c":8.6e-4},{"v":0.418,"c":2.2e-3},{"v":0.43,"c":2.1e-2},{"v":0.458,"c":3.6e-4},{"v":0.468,"c":1.26e-3},{"v":0.48,"c":3.2e-3},{"v":0.52,"c":1.7e-4},{"v":0.527,"c":5.6e-4},{"v":0.535,"c":2e-3},{"v":0.547,"c":5.7e-3},{"v":0.585,"c":2.7e-4},{"v":0.6,"c":9.3e-4},{"v":0.613,"c":3.1e-3},{"v":0.62,"c":1.9e-2},{"v":0.65,"c":5.3e-4},{"v":0.66,"c":4e-4},{"v":0.68,"c":1.5e-3},{"v":0.695,"c":4.5e-3},{"v":0.74,"c":1.8e-4},{"v":0.755,"c":6.9e-4},{"v":0.77,"c":2.6e-3},{"v":0.785,"c":1.1e-2},{"v":0.84,"c":3e-4},{"v":0.86,"c":2.7e-3},{"v":0.88,"c":3.9e-3},{"v":0.95,"c":1.5e-4},{"v":0.97,"c":5.5e-4},{"v":0.98,"c":2.4e-3},{"v":1.0,"c":8.3e-3},{"v":1.07,"c":2.8e-4},{"v":1.1,"c":1.26e-3},{"v":1.11,"c":4.9e-3},{"v":1.14,"c":3.3e-2},{"v":1.2,"c":6.9e-4},{"v":1.23,"c":6.9e-4},{"v":1.25,"c":3.2e-3},{"v":1.28,"c":1.17e-2},{"v":1.36,"c":8.4e-4},{"v":1.39,"c":3.9e-3}],
"y2":[{"v":0.00747,"c":1.7e-5},{"v":0.0076,"c":8.6e-5},{"v":0.0084,"c":1.3e-5},{"v":0.0085,"c":2.9e-4},{"v":0.0094,"c":8e-6},{"v":0.0096,"c":1.17e-5},{"v":0.0105,"c":1.17e-5},{"v":0.0108,"c":1.26e-5},{"v":0.0121,"c":1.4e-5},{"v":0.0123,"c":8.6e-6},{"v":0.0136,"c":1.7e-5},{"v":0.0138,"c":9.6e-6},{"v":0.014,"c":8.3e-5},{"v":0.0155,"c":1.17e-5},{"v":0.0156,"c":9.6e-4},{"v":0.0171,"c":3.2e-5},{"v":0.0174,"c":1.17e-5},{"v":0.0178,"c":2.2e-5},{"v":0.0195,"c":2.2e-5},{"v":0.0198,"c":2.7e-5},{"v":0.0219,"c":5.9e-5},{"v":0.0224,"c":1.8e-5},{"v":0.0228,"c":3.3e-5},{"v":0.0249,"c":3.9e-5},{"v":0.0255,"c":2.4e-5},{"v":0.0259,"c":2.4e-4},{"v":0.0275,"c":1e-4},{"v":0.0286,"c":3e-5},{"v":0.029,"c":7.1e-4},{"v":0.0316,"c":6.3e-5},{"v":0.0326,"c":3.3e-5},{"v":0.0334,"c":7.7e-5},{"v":0.0352,"c":1.8e-4},{"v":0.036,"c":5.2e-5},{"v":0.0369,"c":7.7e-5},{"v":0.0398,"c":1.1e-4},{"v":0.041,"c":4.9e-5},{"v":0.0417,"c":1e-4},{"v":0.0443,"c":3.1e-4},{"v":0.0457,"c":9.3e-5},{"v":0.0464,"c":7.7e-5},{"v":0.0479,"c":8.5e-4},{"v":0.0509,"c":2e-4},{"v":0.0521,"c":7.7e-5},{"v":0.0533,"c":1.6e-3},{"v":0.0571,"c":5.5e-4},{"v":0.0585,"c":9.3e-5},{"v":0.0594,"c":1.6e-4},{"v":0.0641,"c":3.5e-4},{"v":0.0656,"c":1.35e-4},{"v":0.0671,"c":2.4e-4},{"v":0.0719,"c":5e-4},{"v":0.0736,"c":2e-4},{"v":0.0759,"c":1.26e-4},{"v":0.0819,"c":3.9e-4},{"v":0.0838,"c":2e-4},{"v":0.0858,"c":6.6e-4},{"v":0.0926,"c":2.1e-4},{"v":0.094,"c":7.4e-4},{"v":0.0962,"c":2.9e-4},{"v":0.0977,"c":5.9e-3},{"v":0.1055,"c":3.5e-4},{"v":0.107,"c":5.6e-4},{"v":0.1096,"c":3.5e-4},{"v":0.118,"c":4e-3},{"v":0.12,"c":5e-4},{"v":0.123,"c":3.1e-4},{"v":0.126,"c":6.6e-4},{"v":0.135,"c":9e-4},{"v":0.138,"c":3.5e-4},{"v":0.141,"c":6.1e-4},{"v":0.153,"c":8.3e-4},{"v":0.156,"c":5e-4},{"v":0.161,"c":3.5e-4},{"v":0.171,"c":9e-4},{"v":0.176,"c":5.6e-4},{"v":0.181,"c":5.1e-2},{"v":0.195,"c":9.6e-4},{"v":0.2,"c":7.7e-4},{"v":0.203,"c":1.2e-3},{"v":0.219,"c":3.7e-3},{"v":0.222,"c":9.6e-4},{"v":0.227,"c":1.9e-3},{"v":0.249,"c":1.1e-3},{"v":0.255,"c":3.1e-3},{"v":0.261,"c":1.2e-3},{"v":0.28,"c":1.4e-3},{"v":0.286,"c":1.8e-3},{"v":0.293,"c":2.1e-3},{"v":0.302,"c":8.3e-4},{"v":0.314,"c":9e-4},{"v":0.334,"c":2.1e-3},{"v":0.339,"c":1.6e-2},{"v":0.352,"c":1.1e-3},{"v":0.369,"c":2.3e-3},{"v":0.38,"c":5.5e-3},{"v":0.389,"c":1.9e-3},{"v":0.404,"c":3.1e-3},{"v":0.42,"c":5.5e-3},{"v":0.43,"c":2.6e-3},{"v":0.457,"c":9.6e-4},{"v":0.464,"c":2.8e-3},{"v":0.471,"c":4e-3},{"v":0.49,"c":3e-2},{"v":0.529,"c":1.4e-3},{"v":0.541,"c":4e-3},{"v":0.55,"c":7.1e-3},{"v":0.562,"c":1.17e-2},{"v":0.585,"c":7.1e-4},{"v":0.603,"c":6.3e-3},{"v":0.617,"c":2e-2},{"v":0.666,"c":1.05e-3},{"v":0.681,"c":3.6e-3},{"v":0.692,"c":1.05e-2},{"v":0.703,"c":0.16},{"v":0.747,"c":2.3e-3},{"v":0.759,"c":1.8e-3},{"v":0.776,"c":7.1e-3},{"v":0.794,"c":1.8e-2},{"v":0.838,"c":9e-4},{"v":0.858,"c":3.3e-3},{"v":0.871,"c":1.35e-2},{"v":0.891,"c":5.3e-2},{"v":0.977,"c":1.4e-3},{"v":0.993,"c":6.9e-3},{"v":1.016,"c":2.7e-2},{"v":1.03,"c":0.21},{"v":1.08,"c":8.3e-4},{"v":1.096,"c":3.3e-3},{"v":1.12,"c":1.35e-2},{"v":1.148,"c":4.2e-2},{"v":1.2,"c":2.1e-3},{"v":1.24,"c":9.3e-3},{"v":1.26,"c":3.6e-2},{"v":1.3,"c":1.5},{"v":1.36,"c":4e-3},{"v":1.38,"c":1.1e-2},{"v":1.41,"c":6.9e-2}],
"y3":[{"v":0.0072,"c":2.6e-5},{"v":0.00736,"c":1.35e-5},{"v":0.0079,"c":1.5e-5},{"v":0.0082,"c":1.6e-5},{"v":0.0091,"c":7.7e-6},{"v":0.0093,"c":1.1e-5},{"v":0.01,"c":1.1e-5},{"v":0.0102,"c":8.3e-6},{"v":0.0105,"c":8.9e-6},{"v":0.0116,"c":8.3e-6},{"v":0.0117,"c":4.6e-4},{"v":0.0128,"c":1.35e-5},{"v":0.0131,"c":7.7e-6},{"v":0.0135,"c":7.1e-6},{"v":0.0147,"c":1.2e-5},{"v":0.0149,"c":1.6e-5},{"v":0.0165,"c":2.6e-5},{"v":0.0167,"c":1.1e-5},{"v":0.0174,"c":1.35e-5},{"v":0.0188,"c":1.6e-5},{"v":0.0192,"c":1.5e-5},{"v":0.0211,"c":1.6e-5},{"v":0.0214,"c":4.2e-5},{"v":0.0215,"c":3e-4},{"v":0.0236,"c":2.4e-5},{"v":0.0242,"c":1.8e-5},{"v":0.0245,"c":1.5e-5},{"v":0.0265,"c":7.4e-5},{"v":0.0271,"c":2.9e-5},{"v":0.0275,"c":4.2e-5},{"v":0.0302,"c":5.5e-5},{"v":0.0309,"c":3.2e-5},{"v":0.0313,"c":2.9e-5},{"v":0.0339,"c":1.17e-4},{"v":0.0346,"c":4.6e-5},{"v":0.0352,"c":3.7e-5},{"v":0.038,"c":8.9e-5},{"v":0.0392,"c":4.2e-5},{"v":0.0398,"c":5.5e-4},{"v":0.0429,"c":2.1e-4},{"v":0.0437,"c":8e-5},{"v":0.0447,"c":5e-5},{"v":0.0454,"c":3.5e-5},{"v":0.049,"c":1.6e-4},{"v":0.05,"c":7.4e-5},{"v":0.051,"c":1.3e-4},{"v":0.055,"c":3.6e-4},{"v":0.0562,"c":1.3e-4},{"v":0.0571,"c":1e-4},{"v":0.0621,"c":2.8e-4},{"v":0.0631,"c":1.45e-4},{"v":0.0641,"c":1e-4},{"v":0.0656,"c":5.5e-5},{"v":0.0692,"c":5.5e-4},{"v":0.0708,"c":2.3e-4},{"v":0.0724,"c":1.17e-4},{"v":0.0741,"c":1.5e-3},{"v":0.0794,"c":4.9e-4},{"v":0.0807,"c":2.1e-4},{"v":0.0827,"c":1.3e-4},{"v":0.0846,"c":1e-4},{"v":0.0886,"c":3.9e-3},{"v":0.0912,"c":3.6e-4},{"v":0.0926,"c":3.1e-4},{"v":0.094,"c":1.9e-4},{"v":0.1,"c":7.1e-4},{"v":0.103,"c":3.3e-4},{"v":0.1055,"c":2.1e-4},{"v":0.1096,"c":4.1e-4},{"v":0.1156,"c":6.6e-4},{"v":0.118,"c":3.1e-4},{"v":0.1216,"c":3.3e-4},{"v":0.1274,"c":9.6e-4},{"v":0.1303,"c":5.9e-4},{"v":0.1327,"c":3.3e-4},{"v":0.1358,"c":8.3e-3},{"v":0.1432,"c":9.6e-4},{"v":0.1489,"c":5.9e-4},{"v":0.1525,"c":4.1e-4},{"v":0.161,"c":5e-3},{"v":0.1648,"c":9.6e-4},{"v":0.17,"c":5.2e-4},{"v":0.181,"c":8.5e-4},{"v":0.1878,"c":1.26e-3},{"v":0.192,"c":1.1e-3},{"v":0.197,"c":8.5e-4},{"v":0.206,"c":5.9e-4},{"v":0.2128,"c":1.5e-3},{"v":0.219,"c":1.26e-3},{"v":0.224,"c":9.6e-4},{"v":0.236,"c":1.5e-3},{"v":0.245,"c":1.26e-3},{"v":0.251,"c":2e-2},{"v":0.265,"c":1.8e-3},{"v":0.275,"c":1.5e-3},{"v":0.281,"c":1.26e-3},{"v":0.296,"c":2.7e-3},{"v":0.302,"c":5e-3},{"v":0.309,"c":1.8e-3},{"v":0.326,"c":2.2e-3},{"v":0.339,"c":2.7e-3},{"v":0.346,"c":1.5e-3},{"v":0.359,"c":4.7e-3},{"v":0.367,"c":2.7e-3},{"v":0.38,"c":2.2e-3},{"v":0.398,"c":3.2e-3},{"v":0.41,"c":3.2e-3},{"v":0.437,"c":1.26e-3},{"v":0.45,"c":3.5e-3},{"v":0.464,"c":1.8e-2},{"v":0.49,"c":4.7e-3},{"v":0.5,"c":1.8e-3},{"v":0.515,"c":5.7e-3},{"v":0.527,"c":8.3e-3},{"v":0.55,"c":3.9e-3},{"v":0.562,"c":2.7e-3},{"v":0.585,"c":1.2e-2},{"v":0.603,"c":5.7e-3},{"v":0.617,"c":1.45e-2},{"v":0.641,"c":1.26e-3},{"v":0.666,"c":9.3e-3},{"v":0.681,"c":0.44},{"v":0.703,"c":2.2e-3},{"v":0.724,"c":2.2e-3},{"v":0.747,"c":2.1e-2},{"v":0.776,"c":3.9e-3},{"v":0.794,"c":1.45e-2},{"v":0.818,"c":1.05e-3},{"v":0.843,"c":5.5e-2},{"v":0.858,"c":3.9e-3},{"v":0.905,"c":6.9e-3},{"v":0.926,"c":1.8e-3},{"v":0.955,"c":3.1e-2},{"v":0.977,"c":0.117},{"v":1.016,"c":1e-2},{"v":1.04,"c":3.2e-3},{"v":1.07,"c":5.5e-2},{"v":1.1,"c":1.45e-2},{"v":1.13,"c":9.6e-2},{"v":1.16,"c":6.9e-3},{"v":1.18,"c":2.2e-3},{"v":1.2,"c":0.14},{"v":1.23,"c":8.3e-3},{"v":1.27,"c":3.3e-2},{"v":1.33,"c":6.3e-3}],
"y4":[{"v":0.0072,"c":1.9e-5},{"v":0.00736,"c":1.9e-5},{"v":0.0081,"c":1.5e-5},{"v":0.0082,"c":1.07e-5},{"v":0.0091,"c":8.9e-6},{"v":0.0094,"c":3.7e-4},{"v":0.0102,"c":1.3e-5},{"v":0.0104,"c":6.6e-6},{"v":0.0107,"c":5.3e-6},{"v":0.0116,"c":8.9e-6},{"v":0.0118,"c":1.17e-5},{"v":0.0131,"c":1.8e-5},{"v":0.0133,"c":7.1e-6},{"v":0.0136,"c":8.9e-6},{"v":0.0147,"c":1.3e-5},{"v":0.0149,"c":1.05e-5},{"v":0.0155,"c":7.1e-6},{"v":0.0167,"c":3e-5},{"v":0.0171,"c":1.17e-5},{"v":0.0174,"c":1.8e-4},{"v":0.0188,"c":2.2e-5},{"v":0.0192,"c":1.3e-5},{"v":0.0196,"c":1.05e-5},{"v":0.0211,"c":5.2e-5},{"v":0.0215,"c":2e-5},{"v":0.0222,"c":3e-5},{"v":0.0242,"c":3.6e-5},{"v":0.0245,"c":1.7e-5},{"v":0.0251,"c":2.2e-5},{"v":0.0269,"c":8.6e-5},{"v":0.0275,"c":3.2e-5},{"v":0.0282,"c":2.5e-5},{"v":0.0286,"c":1.6e-5},{"v":0.0309,"c":6.3e-5},{"v":0.0316,"c":3.2e-5},{"v":0.0321,"c":3.2e-4},{"v":0.0342,"c":1.35e-4},{"v":0.0352,"c":5.7e-5},{"v":0.036,"c":3e-5},{"v":0.0388,"c":1.1e-4},{"v":0.0398,"c":4.7e-5},{"v":0.041,"c":7.7e-5},{"v":0.0437,"c":2.6e-4},{"v":0.0447,"c":5.9e-5},{"v":0.0457,"c":9.3e-5},{"v":0.0471,"c":5.2e-5},{"v":0.05,"c":1.8e-4},{"v":0.0516,"c":7.7e-5},{"v":0.0528,"c":3.6e-5},{"v":0.055,"c":3.9e-4},{"v":0.0562,"c":1.6e-4},{"v":0.0575,"c":7.7e-5},{"v":0.0594,"c":8.3e-4},{"v":0.0631,"c":3.2e-4},{"v":0.065,"c":9.3e-5},{"v":0.0667,"c":6.9e-5},{"v":0.0708,"c":2.8e-3},{"v":0.0724,"c":2.7e-4},{"v":0.0748,"c":1.26e-4},{"v":0.0765,"c":2.1e-4},{"v":0.0807,"c":5.6e-4},{"v":0.0827,"c":2.4e-4},{"v":0.0846,"c":1.35e-4},{"v":0.0872,"c":1.8e-4},{"v":0.0921,"c":4.6e-4},{"v":0.094,"c":2e-4},{"v":0.0977,"c":1e-4},{"v":0.1016,"c":8.3e-4},{"v":0.1039,"c":3.9e-4},{"v":0.107,"c":2.4e-4},{"v":0.1096,"c":3e-3},{"v":0.1166,"c":8e-4},{"v":0.12,"c":3.9e-4},{"v":0.123,"c":2.4e-4},{"v":0.131,"c":5.5e-3},{"v":0.134,"c":7.4e-4},{"v":0.138,"c":3.5e-4},{"v":0.143,"c":6.6e-4},{"v":0.149,"c":1.2e-3},{"v":0.1525,"c":6.1e-4},{"v":0.157,"c":3.9e-4},{"v":0.167,"c":1.2e-3},{"v":0.171,"c":6.1e-4},{"v":0.181,"c":3.5e-4},{"v":0.188,"c":1.4e-3},{"v":0.192,"c":1.1e-3},{"v":0.197,"c":6.1e-4},{"v":0.203,"c":0.21},{"v":0.213,"c":1.6e-3},{"v":0.219,"c":9.6e-4},{"v":0.224,"c":8.3e-4},{"v":0.236,"c":1.8e-3},{"v":0.242,"c":7.1e-3},{"v":0.248,"c":1.6e-3},{"v":0.255,"c":1.1e-3},{"v":0.265,"c":1.8e-3},{"v":0.275,"c":2.1e-3},{"v":0.281,"c":1.2e-3},{"v":0.29,"c":2.3e-3},{"v":0.309,"c":2.1e-3},{"v":0.32,"c":1.8e-3},{"v":0.328,"c":1.9e-3},{"v":0.339,"c":1.8e-3},{"v":0.352,"c":2.3e-3},{"v":0.363,"c":2.8e-3},{"v":0.374,"c":1.8e-2},{"v":0.389,"c":2.8e-3},{"v":0.398,"c":2.3e-3},{"v":0.41,"c":3.3e-3},{"v":0.422,"c":7.1e-3},{"v":0.437,"c":5.9e-3},{"v":0.45,"c":6.3e-3},{"v":0.464,"c":7.1e-3},{"v":0.479,"c":3.3e-3},{"v":0.5,"c":2.1e-3},{"v":0.515,"c":5.9e-3},{"v":0.531,"c":2.4e-2},{"v":0.55,"c":3.3e-3},{"v":0.576,"c":7.1e-3},{"v":0.594,"c":1.05e-2},{"v":0.61,"c":4.4e-3},{"v":0.631,"c":1.17e-2},{"v":0.65,"c":1.6e-3},{"v":0.67,"c":5.2e-3},{"v":0.692,"c":3.5e-2},{"v":0.72,"c":2.6e-3},{"v":0.736,"c":9.3e-3},{"v":0.759,"c":2e-2},{"v":0.782,"c":0.18},{"v":0.807,"c":5.2e-3},{"v":0.838,"c":4.6e-3},{"v":0.858,"c":2e-2},{"v":0.871,"c":3.9e-2},{"v":0.926,"c":2.1e-3},{"v":0.955,"c":8.6e-3},{"v":0.977,"c":3.5e-2},{"v":1.016,"c":0.135},{"v":1.065,"c":4.4e-3},{"v":1.08,"c":2e-2},{"v":1.12,"c":6.9e-2},{"v":1.16,"c":2.5e-3},{"v":1.2,"c":1.05e-2},{"v":1.24,"c":4.7e-2},{"v":1.28,"c":0.49},{"v":1.36,"c":8.6e-3},{"v":1.38,"c":5.7e-2},{"v":1.42,"c":0.23}],
"y5":[{"v":0.0078,"c":1.05e-6},{"v":0.0079,"c":1.7e-6},{"v":0.0088,"c":1.26e-6},{"v":0.0091,"c":4.5e-7},{"v":0.0099,"c":1.8e-6},{"v":0.0112,"c":1.7e-6},{"v":0.0115,"c":1.26e-6},{"v":0.0125,"c":3e-6},{"v":0.0128,"c":3.9e-6},{"v":0.0144,"c":2.5e-6},{"v":0.0146,"c":4.1e-6},{"v":0.0161,"c":5.2e-6},{"v":0.0165,"c":8e-7},{"v":0.0167,"c":3.6e-6},{"v":0.0183,"c":3.9e-6},{"v":0.0188,"c":4.9e-4},{"v":0.0206,"c":9.3e-6},{"v":0.021,"c":4.4e-6},{"v":0.0214,"c":2.9e-6},{"v":0.0233,"c":1.1e-5},{"v":0.0236,"c":6.3e-6},{"v":0.0259,"c":1.5e-5},{"v":0.0265,"c":6.3e-6},{"v":0.0269,"c":1.1e-5},{"v":0.0293,"c":1.05e-5},{"v":0.03,"c":9.3e-6},{"v":0.0309,"c":1.7e-6},{"v":0.0334,"c":2.7e-5},{"v":0.0339,"c":1.05e-5},{"v":0.0347,"c":3.1e-4},{"v":0.0374,"c":2e-5},{"v":0.0383,"c":1.26e-5},{"v":0.0392,"c":7.7e-6},{"v":0.042,"c":4.6e-5},{"v":0.043,"c":3.1e-5},{"v":0.044,"c":1.8e-5},{"v":0.0482,"c":3.5e-5},{"v":0.049,"c":2.9e-5},{"v":0.0497,"c":2e-5},{"v":0.0537,"c":7.4e-5},{"v":0.055,"c":2.9e-5},{"v":0.0562,"c":3.9e-6},{"v":0.0607,"c":6.2e-5},{"v":0.0617,"c":2.9e-5},{"v":0.0636,"c":7.1e-4},{"v":0.0676,"c":1.4e-4},{"v":0.0692,"c":5e-5},{"v":0.0708,"c":3.5e-5},{"v":0.0724,"c":2.2e-5},{"v":0.0776,"c":1.07e-4},{"v":0.0794,"c":9.6e-5},{"v":0.0813,"c":4.7e-5},{"v":0.0871,"c":2.3e-4},{"v":0.0891,"c":8.9e-5},{"v":0.0906,"c":4.7e-5},{"v":0.0977,"c":1.9e-4},{"v":0.0993,"c":8.3e-5},{"v":0.1016,"c":8e-5},{"v":0.104,"c":1e-5},{"v":0.1096,"c":4.1e-4},{"v":0.112,"c":1.6e-4},{"v":0.115,"c":8e-5},{"v":0.1175,"c":3.5e-3},{"v":0.125,"c":3.3e-4},{"v":0.128,"c":1.45e-4},{"v":0.131,"c":8.9e-5},{"v":0.141,"c":6.3e-4},{"v":0.1435,"c":2.8e-4},{"v":0.147,"c":2.5e-4},{"v":0.15,"c":1.3e-4},{"v":0.161,"c":5.2e-4},{"v":0.165,"c":2.8e-4},{"v":0.167,"c":1.45e-4},{"v":0.174,"c":4.6e-4},{"v":0.178,"c":3.3e-4},{"v":0.186,"c":5.2e-4},{"v":0.189,"c":2.5e-4},{"v":0.195,"c":5e-5},{"v":0.204,"c":8.9e-4},{"v":0.207,"c":2.3e-4},{"v":0.214,"c":7.7e-3},{"v":0.227,"c":8.5e-4},{"v":0.233,"c":4.6e-4},{"v":0.238,"c":3.3e-4},{"v":0.245,"c":3.6e-4},{"v":0.257,"c":1.26e-3},{"v":0.265,"c":4.6e-4},{"v":0.271,"c":7.7e-4},{"v":0.286,"c":1.26e-3},{"v":0.293,"c":4.6e-4},{"v":0.304,"c":1.4e-3},{"v":0.314,"c":1.4e-3},{"v":0.329,"c":7.7e-4},{"v":0.339,"c":1.5e-3},{"v":0.349,"c":8.5e-4},{"v":0.36,"c":1.4e-3},{"v":0.377,"c":1.4e-3},{"v":0.389,"c":1.05e-3},{"v":0.398,"c":6.9e-3},{"v":0.42,"c":2e-3},{"v":0.437,"c":1.26e-3},{"v":0.447,"c":1.5e-3},{"v":0.461,"c":2.4e-3},{"v":0.482,"c":2.4e-3},{"v":0.497,"c":1.8e-3},{"v":0.509,"c":3.5e-3},{"v":0.521,"c":2.7e-3},{"v":0.537,"c":3.9e-3},{"v":0.562,"c":3e-3},{"v":0.58,"c":1.6e-2},{"v":0.617,"c":5e-3},{"v":0.641,"c":4.7e-3},{"v":0.666,"c":6.3e-3},{"v":0.692,"c":1.8e-3},{"v":0.719,"c":8.3e-3},{"v":0.73,"c":7.4e-3},{"v":0.747,"c":2.4e-2},{"v":0.776,"c":3.2e-3},{"v":0.807,"c":1e-2},{"v":0.826,"c":2.1e-2},{"v":0.851,"c":5.1e-2},{"v":0.906,"c":1.5e-3},{"v":0.919,"c":5.7e-3},{"v":0.933,"c":2.3e-2},{"v":0.962,"c":5.1e-2},{"v":1.016,"c":2.9e-3},{"v":1.04,"c":1.2e-2},{"v":1.064,"c":4.5e-2},{"v":1.08,"c":0.33},{"v":1.14,"c":6.1e-3},{"v":1.166,"c":2.3e-2},{"v":1.2,"c":8.9e-2},{"v":1.28,"c":3.6e-3},{"v":1.31,"c":1.45e-2},{"v":1.35,"c":5.1e-2},{"v":1.38,"c":0.158},{"v":1.46,"c":1.8e-2},{"v":1.49,"c":6.1e-2}]
},
"vconcat":[
{"hconcat":[
{"width":249,"height":154,"layer":[{"data":{"name":"x1"},"mark":"circle","encoding":{"x":{"field":"v","type":"quantitative","scale":{"type":"log","domain":[0.0001,1.47],"nice":false},"axis":{"values":[0.0001,0.0002,0.0003,0.0004,0.0005,0.0006,0.0007,0.0008,0.0009,0.001,0.002,0.003,0.004,0.005,0.006,0.007,0.008,0.009,0.01,0.02,0.03,0.04,0.05,0.06,0.07,0.08,0.09,0.1,0.2,0.3,0.4,0.5,0.6,0.7,0.8,0.9,1],"labels":false,"title":null,"tickSize":{"condition":{"test":"abs(log(datum.value)/LN10-round(log(datum.value)/LN10))<0.01","value":-5},"value":-2.5}}},"y":{"field":"c","type":"quantitative","scale":{"type":"log","domain":[1.3e-7,5],"nice":false},"axis":{"values":[0.000001,0.00001,0.0001,0.001,0.01,0.1,1],"labelExpr":"datum.value==1?'1':datum.value==0.01?'0.01':datum.value==0.0001?'10⁻⁴':datum.value==0.000001?'10⁻⁶':''","labelOverlap":false,"labelFlush":false,"labelPadding":6,"title":"cᵤᵀˣ upper limit","titleFontSize":18,"titlePadding":4,"tickSize":-5}}}},{"data":{"name":"lab"},"transform":[{"filter":"datum.r==1"}],"mark":"text","encoding":{"x":{"field":"v","type":"quantitative"},"y":{"field":"c","type":"quantitative"},"text":{"field":"t"}}}]},
{"width":249,"height":154,"data":{"name":"q1"},"mark":"circle","encoding":{"x":{"field":"v","type":"quantitative","scale":{"type":"log","domain":[0.5,7000],"nice":false},"axis":{"values":[0.5,0.6,0.7,0.8,0.9,1,2,3,4,5,6,7,8,9,10,20,30,40,50,60,70,80,90,100,200,300,400,500,600,700,800,900,1000,2000,3000,4000,5000,6000,7000],"labels":false,"title":null,"tickSize":{"condition":{"test":"abs(log(datum.value)/LN10-round(log(datum.value)/LN10))<0.01","value":-5},"value":-2.5}}},"y":{"field":"c","type":"quantitative","scale":{"type":"log","domain":[1.3e-7,5],"nice":false},"axis":{"values":[0.000001,0.00001,0.0001,0.001,0.01,0.1,1],"labels":false,"title":null,"tickSize":-5}}}},
{"width":249,"height":154,"data":{"name":"y1"},"mark":"circle","encoding":{"x":{"field":"v","type":"quantitative","scale":{"type":"log","domain":[0.006,1.86],"nice":false},"axis":{"values":[0.006,0.007,0.008,0.009,0.01,0.02,0.03,0.04,0.05,0.06,0.07,0.08,0.09,0.1,0.2,0.3,0.4,0.5,0.6,0.7,0.8,0.9,1],"labels":false,"title":null,"tickSize":{"condition":{"test":"abs(log(datum.value)/LN10-round(log(datum.value)/LN10))<0.01","value":-5},"value":-2.5}}},"y":{"field":"c","type":"quantitative","scale":{"type":"log","domain":[1.3e-7,5],"nice":false},"axis":{"values":[0.000001,0.00001,0.0001,0.001,0.01,0.1,1],"labels":false,"title":null,"tickSize":-5}}}}
],"spacing":1},
{"hconcat":[
{"width":249,"height":154,"layer":[{"data":{"name":"x2"},"mark":"circle","encoding":{"x":{"field":"v","type":"quantitative","scale":{"type":"log","domain":[0.0001,1.47],"nice":false},"axis":{"values":[0.0001,0.0002,0.0003,0.0004,0.0005,0.0006,0.0007,0.0008,0.0009,0.001,0.002,0.003,0.004,0.005,0.006,0.007,0.008,0.009,0.01,0.02,0.03,0.04,0.05,0.06,0.07,0.08,0.09,0.1,0.2,0.3,0.4,0.5,0.6,0.7,0.8,0.9,1],"labels":false,"title":null,"tickSize":{"condition":{"test":"abs(log(datum.value)/LN10-round(log(datum.value)/LN10))<0.01","value":-5},"value":-2.5}}},"y":{"field":"c","type":"quantitative","scale":{"type":"log","domain":[1.3e-7,5],"nice":false},"axis":{"values":[0.000001,0.00001,0.0001,0.001,0.01,0.1,1],"labelExpr":"datum.value==1?'1':datum.value==0.01?'0.01':datum.value==0.0001?'10⁻⁴':datum.value==0.000001?'10⁻⁶':''","labelOverlap":false,"labelFlush":false,"labelPadding":6,"title":"cᵤᵀˣ upper limit","titleFontSize":18,"titlePadding":4,"tickSize":-5}}}},{"data":{"name":"lab"},"transform":[{"filter":"datum.r==2"}],"mark":"text","encoding":{"x":{"field":"v","type":"quantitative"},"y":{"field":"c","type":"quantitative"},"text":{"field":"t"}}}]},
{"width":249,"height":154,"data":{"name":"q2"},"mark":"circle","encoding":{"x":{"field":"v","type":"quantitative","scale":{"type":"log","domain":[0.5,7000],"nice":false},"axis":{"values":[0.5,0.6,0.7,0.8,0.9,1,2,3,4,5,6,7,8,9,10,20,30,40,50,60,70,80,90,100,200,300,400,500,600,700,800,900,1000,2000,3000,4000,5000,6000,7000],"labels":false,"title":null,"tickSize":{"condition":{"test":"abs(log(datum.value)/LN10-round(log(datum.value)/LN10))<0.01","value":-5},"value":-2.5}}},"y":{"field":"c","type":"quantitative","scale":{"type":"log","domain":[1.3e-7,5],"nice":false},"axis":{"values":[0.000001,0.00001,0.0001,0.001,0.01,0.1,1],"labels":false,"title":null,"tickSize":-5}}}},
{"width":249,"height":154,"data":{"name":"y2"},"mark":"circle","encoding":{"x":{"field":"v","type":"quantitative","scale":{"type":"log","domain":[0.006,1.86],"nice":false},"axis":{"values":[0.006,0.007,0.008,0.009,0.01,0.02,0.03,0.04,0.05,0.06,0.07,0.08,0.09,0.1,0.2,0.3,0.4,0.5,0.6,0.7,0.8,0.9,1],"labels":false,"title":null,"tickSize":{"condition":{"test":"abs(log(datum.value)/LN10-round(log(datum.value)/LN10))<0.01","value":-5},"value":-2.5}}},"y":{"field":"c","type":"quantitative","scale":{"type":"log","domain":[1.3e-7,5],"nice":false},"axis":{"values":[0.000001,0.00001,0.0001,0.001,0.01,0.1,1],"labels":false,"title":null,"tickSize":-5}}}}
],"spacing":1},
{"hconcat":[
{"width":249,"height":154,"layer":[{"data":{"name":"x3"},"mark":"circle","encoding":{"x":{"field":"v","type":"quantitative","scale":{"type":"log","domain":[0.0001,1.47],"nice":false},"axis":{"values":[0.0001,0.0002,0.0003,0.0004,0.0005,0.0006,0.0007,0.0008,0.0009,0.001,0.002,0.003,0.004,0.005,0.006,0.007,0.008,0.009,0.01,0.02,0.03,0.04,0.05,0.06,0.07,0.08,0.09,0.1,0.2,0.3,0.4,0.5,0.6,0.7,0.8,0.9,1],"labels":false,"title":null,"tickSize":{"condition":{"test":"abs(log(datum.value)/LN10-round(log(datum.value)/LN10))<0.01","value":-5},"value":-2.5}}},"y":{"field":"c","type":"quantitative","scale":{"type":"log","domain":[1.3e-7,5],"nice":false},"axis":{"values":[0.000001,0.00001,0.0001,0.001,0.01,0.1,1],"labelExpr":"datum.value==1?'1':datum.value==0.01?'0.01':datum.value==0.0001?'10⁻⁴':datum.value==0.000001?'10⁻⁶':''","labelOverlap":false,"labelFlush":false,"labelPadding":6,"title":"cᵤᵀˣ upper limit","titleFontSize":18,"titlePadding":4,"tickSize":-5}}}},{"data":{"name":"lab"},"transform":[{"filter":"datum.r==3"}],"mark":"text","encoding":{"x":{"field":"v","type":"quantitative"},"y":{"field":"c","type":"quantitative"},"text":{"field":"t"}}}]},
{"width":249,"height":154,"data":{"name":"q3"},"mark":"circle","encoding":{"x":{"field":"v","type":"quantitative","scale":{"type":"log","domain":[0.5,7000],"nice":false},"axis":{"values":[0.5,0.6,0.7,0.8,0.9,1,2,3,4,5,6,7,8,9,10,20,30,40,50,60,70,80,90,100,200,300,400,500,600,700,800,900,1000,2000,3000,4000,5000,6000,7000],"labels":false,"title":null,"tickSize":{"condition":{"test":"abs(log(datum.value)/LN10-round(log(datum.value)/LN10))<0.01","value":-5},"value":-2.5}}},"y":{"field":"c","type":"quantitative","scale":{"type":"log","domain":[1.3e-7,5],"nice":false},"axis":{"values":[0.000001,0.00001,0.0001,0.001,0.01,0.1,1],"labels":false,"title":null,"tickSize":-5}}}},
{"width":249,"height":154,"data":{"name":"y3"},"mark":"circle","encoding":{"x":{"field":"v","type":"quantitative","scale":{"type":"log","domain":[0.006,1.86],"nice":false},"axis":{"values":[0.006,0.007,0.008,0.009,0.01,0.02,0.03,0.04,0.05,0.06,0.07,0.08,0.09,0.1,0.2,0.3,0.4,0.5,0.6,0.7,0.8,0.9,1],"labels":false,"title":null,"tickSize":{"condition":{"test":"abs(log(datum.value)/LN10-round(log(datum.value)/LN10))<0.01","value":-5},"value":-2.5}}},"y":{"field":"c","type":"quantitative","scale":{"type":"log","domain":[1.3e-7,5],"nice":false},"axis":{"values":[0.000001,0.00001,0.0001,0.001,0.01,0.1,1],"labels":false,"title":null,"tickSize":-5}}}}
],"spacing":1},
{"hconcat":[
{"width":249,"height":154,"layer":[{"data":{"name":"x4"},"mark":"circle","encoding":{"x":{"field":"v","type":"quantitative","scale":{"type":"log","domain":[0.0001,1.47],"nice":false},"axis":{"values":[0.0001,0.0002,0.0003,0.0004,0.0005,0.0006,0.0007,0.0008,0.0009,0.001,0.002,0.003,0.004,0.005,0.006,0.007,0.008,0.009,0.01,0.02,0.03,0.04,0.05,0.06,0.07,0.08,0.09,0.1,0.2,0.3,0.4,0.5,0.6,0.7,0.8,0.9,1],"labels":false,"title":null,"tickSize":{"condition":{"test":"abs(log(datum.value)/LN10-round(log(datum.value)/LN10))<0.01","value":-5},"value":-2.5}}},"y":{"field":"c","type":"quantitative","scale":{"type":"log","domain":[1.3e-7,5],"nice":false},"axis":{"values":[0.000001,0.00001,0.0001,0.001,0.01,0.1,1],"labelExpr":"datum.value==1?'1':datum.value==0.01?'0.01':datum.value==0.0001?'10⁻⁴':datum.value==0.000001?'10⁻⁶':''","labelOverlap":false,"labelFlush":false,"labelPadding":6,"title":"cᵤᵀˣ upper limit","titleFontSize":18,"titlePadding":4,"tickSize":-5}}}},{"data":{"name":"lab"},"transform":[{"filter":"datum.r==4"}],"mark":"text","encoding":{"x":{"field":"v","type":"quantitative"},"y":{"field":"c","type":"quantitative"},"text":{"field":"t"}}}]},
{"width":249,"height":154,"data":{"name":"q4"},"mark":"circle","encoding":{"x":{"field":"v","type":"quantitative","scale":{"type":"log","domain":[0.5,7000],"nice":false},"axis":{"values":[0.5,0.6,0.7,0.8,0.9,1,2,3,4,5,6,7,8,9,10,20,30,40,50,60,70,80,90,100,200,300,400,500,600,700,800,900,1000,2000,3000,4000,5000,6000,7000],"labels":false,"title":null,"tickSize":{"condition":{"test":"abs(log(datum.value)/LN10-round(log(datum.value)/LN10))<0.01","value":-5},"value":-2.5}}},"y":{"field":"c","type":"quantitative","scale":{"type":"log","domain":[1.3e-7,5],"nice":false},"axis":{"values":[0.000001,0.00001,0.0001,0.001,0.01,0.1,1],"labels":false,"title":null,"tickSize":-5}}}},
{"width":249,"height":154,"data":{"name":"y4"},"mark":"circle","encoding":{"x":{"field":"v","type":"quantitative","scale":{"type":"log","domain":[0.006,1.86],"nice":false},"axis":{"values":[0.006,0.007,0.008,0.009,0.01,0.02,0.03,0.04,0.05,0.06,0.07,0.08,0.09,0.1,0.2,0.3,0.4,0.5,0.6,0.7,0.8,0.9,1],"labels":false,"title":null,"tickSize":{"condition":{"test":"abs(log(datum.value)/LN10-round(log(datum.value)/LN10))<0.01","value":-5},"value":-2.5}}},"y":{"field":"c","type":"quantitative","scale":{"type":"log","domain":[1.3e-7,5],"nice":false},"axis":{"values":[0.000001,0.00001,0.0001,0.001,0.01,0.1,1],"labels":false,"title":null,"tickSize":-5}}}}
],"spacing":1},
{"hconcat":[
{"width":249,"height":154,"layer":[{"data":{"name":"x5"},"mark":"circle","encoding":{"x":{"field":"v","type":"quantitative","scale":{"type":"log","domain":[0.0001,1.47],"nice":false},"axis":{"values":[0.0001,0.0002,0.0003,0.0004,0.0005,0.0006,0.0007,0.0008,0.0009,0.001,0.002,0.003,0.004,0.005,0.006,0.007,0.008,0.009,0.01,0.02,0.03,0.04,0.05,0.06,0.07,0.08,0.09,0.1,0.2,0.3,0.4,0.5,0.6,0.7,0.8,0.9,1],"labelExpr":"datum.value==0.0001?'10⁻⁴':datum.value==0.001?'0.001':datum.value==0.01?'0.010':datum.value==0.1?'0.100':datum.value==1?'1':''","labelOverlap":false,"labelFlush":false,"labelPadding":5,"title":"x","titleFontStyle":"italic","titleFontSize":12,"titlePadding":4,"tickSize":{"condition":{"test":"abs(log(datum.value)/LN10-round(log(datum.value)/LN10))<0.01","value":-5},"value":-2.5}}},"y":{"field":"c","type":"quantitative","scale":{"type":"log","domain":[1.3e-7,5],"nice":false},"axis":{"values":[0.000001,0.00001,0.0001,0.001,0.01,0.1,1],"labelExpr":"datum.value==1?'1':datum.value==0.01?'0.01':datum.value==0.0001?'10⁻⁴':datum.value==0.000001?'10⁻⁶':''","labelOverlap":false,"labelFlush":false,"labelPadding":6,"title":"cᵤᵀˣ upper limit","titleFontSize":18,"titlePadding":4,"tickSize":-5}}}},{"data":{"name":"lab"},"transform":[{"filter":"datum.r==5"}],"mark":"text","encoding":{"x":{"field":"v","type":"quantitative"},"y":{"field":"c","type":"quantitative"},"text":{"field":"t"}}}]},
{"width":249,"height":154,"data":{"name":"q5"},"mark":"circle","encoding":{"x":{"field":"v","type":"quantitative","scale":{"type":"log","domain":[0.5,7000],"nice":false},"axis":{"values":[0.5,0.6,0.7,0.8,0.9,1,2,3,4,5,6,7,8,9,10,20,30,40,50,60,70,80,90,100,200,300,400,500,600,700,800,900,1000,2000,3000,4000,5000,6000,7000],"labelExpr":"datum.value==1?'1':datum.value==10?'10':datum.value==100?'100':datum.value==1000?'1000':''","labelOverlap":false,"labelFlush":false,"labelPadding":5,"title":"Q²[GeV²]","titleFontSize":12,"titlePadding":4,"tickSize":{"condition":{"test":"abs(log(datum.value)/LN10-round(log(datum.value)/LN10))<0.01","value":-5},"value":-2.5}}},"y":{"field":"c","type":"quantitative","scale":{"type":"log","domain":[1.3e-7,5],"nice":false},"axis":{"values":[0.000001,0.00001,0.0001,0.001,0.01,0.1,1],"labels":false,"title":null,"tickSize":-5}}}},
{"width":249,"height":154,"data":{"name":"y5"},"mark":"circle","encoding":{"x":{"field":"v","type":"quantitative","scale":{"type":"log","domain":[0.006,1.86],"nice":false},"axis":{"values":[0.006,0.007,0.008,0.009,0.01,0.02,0.03,0.04,0.05,0.06,0.07,0.08,0.09,0.1,0.2,0.3,0.4,0.5,0.6,0.7,0.8,0.9,1],"labelExpr":"datum.value==0.01?'0.01':datum.value==0.05?'0.05':datum.value==0.1?'0.10':datum.value==0.5?'0.50':datum.value==1?'1':''","labelOverlap":false,"labelFlush":false,"labelPadding":5,"title":"y","titleFontStyle":"italic","titleFontSize":12,"titlePadding":4,"tickSize":{"condition":{"test":"abs(log(datum.value)/LN10-round(log(datum.value)/LN10))<0.01","value":-5},"value":-2.5}}},"y":{"field":"c","type":"quantitative","scale":{"type":"log","domain":[1.3e-7,5],"nice":false},"axis":{"values":[0.000001,0.00001,0.0001,0.001,0.01,0.1,1],"labels":false,"title":null,"tickSize":-5}}}}
],"spacing":1}
],
"spacing":2
}
